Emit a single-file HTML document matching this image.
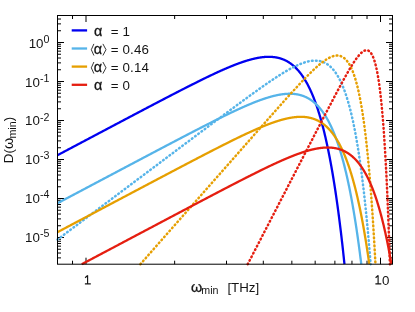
<!DOCTYPE html>
<html><head><meta charset="utf-8"><title>D(omega_min)</title>
<style>
html,body{margin:0;padding:0;background:#fff;}
body{width:415px;height:312px;overflow:hidden;font-family:"Liberation Sans",sans-serif;}
svg{display:block;will-change:transform;}
text{font-family:"Liberation Sans",sans-serif;fill:#141414;}
</style></head><body>
<svg width="415" height="312" viewBox="0 0 415 312">
<rect width="415" height="312" fill="#fff"/>
<defs><clipPath id="c"><rect x="54.5" y="12.5" width="341" height="254.7"/></clipPath></defs>
<path d="M72.52,264.2 v-3.5 M72.52,15.5 v3.5 M86.00,264.2 v-6.5 M86.00,15.5 v6.5 M174.65,264.2 v-3.5 M174.65,15.5 v3.5 M226.51,264.2 v-3.5 M226.51,15.5 v3.5 M263.31,264.2 v-3.5 M263.31,15.5 v3.5 M291.85,264.2 v-3.5 M291.85,15.5 v3.5 M315.17,264.2 v-3.5 M315.17,15.5 v3.5 M334.88,264.2 v-3.5 M334.88,15.5 v3.5 M351.96,264.2 v-3.5 M351.96,15.5 v3.5 M367.02,264.2 v-3.5 M367.02,15.5 v3.5 M380.50,264.2 v-6.5 M380.50,15.5 v6.5 M57.5,257.89 h3.5 M392.5,257.89 h-3.5 M57.5,253.02 h3.5 M392.5,253.02 h-3.5 M57.5,249.24 h3.5 M392.5,249.24 h-3.5 M57.5,246.15 h3.5 M392.5,246.15 h-3.5 M57.5,243.54 h3.5 M392.5,243.54 h-3.5 M57.5,241.28 h3.5 M392.5,241.28 h-3.5 M57.5,239.28 h3.5 M392.5,239.28 h-3.5 M57.5,237.50 h6.5 M392.5,237.50 h-6.5 M57.5,225.76 h3.5 M392.5,225.76 h-3.5 M57.5,218.89 h3.5 M392.5,218.89 h-3.5 M57.5,214.02 h3.5 M392.5,214.02 h-3.5 M57.5,210.24 h3.5 M392.5,210.24 h-3.5 M57.5,207.15 h3.5 M392.5,207.15 h-3.5 M57.5,204.54 h3.5 M392.5,204.54 h-3.5 M57.5,202.28 h3.5 M392.5,202.28 h-3.5 M57.5,200.28 h3.5 M392.5,200.28 h-3.5 M57.5,198.50 h6.5 M392.5,198.50 h-6.5 M57.5,186.76 h3.5 M392.5,186.76 h-3.5 M57.5,179.89 h3.5 M392.5,179.89 h-3.5 M57.5,175.02 h3.5 M392.5,175.02 h-3.5 M57.5,171.24 h3.5 M392.5,171.24 h-3.5 M57.5,168.15 h3.5 M392.5,168.15 h-3.5 M57.5,165.54 h3.5 M392.5,165.54 h-3.5 M57.5,163.28 h3.5 M392.5,163.28 h-3.5 M57.5,161.28 h3.5 M392.5,161.28 h-3.5 M57.5,159.50 h6.5 M392.5,159.50 h-6.5 M57.5,147.76 h3.5 M392.5,147.76 h-3.5 M57.5,140.89 h3.5 M392.5,140.89 h-3.5 M57.5,136.02 h3.5 M392.5,136.02 h-3.5 M57.5,132.24 h3.5 M392.5,132.24 h-3.5 M57.5,129.15 h3.5 M392.5,129.15 h-3.5 M57.5,126.54 h3.5 M392.5,126.54 h-3.5 M57.5,124.28 h3.5 M392.5,124.28 h-3.5 M57.5,122.28 h3.5 M392.5,122.28 h-3.5 M57.5,120.50 h6.5 M392.5,120.50 h-6.5 M57.5,108.76 h3.5 M392.5,108.76 h-3.5 M57.5,101.89 h3.5 M392.5,101.89 h-3.5 M57.5,97.02 h3.5 M392.5,97.02 h-3.5 M57.5,93.24 h3.5 M392.5,93.24 h-3.5 M57.5,90.15 h3.5 M392.5,90.15 h-3.5 M57.5,87.54 h3.5 M392.5,87.54 h-3.5 M57.5,85.28 h3.5 M392.5,85.28 h-3.5 M57.5,83.28 h3.5 M392.5,83.28 h-3.5 M57.5,81.50 h6.5 M392.5,81.50 h-6.5 M57.5,69.76 h3.5 M392.5,69.76 h-3.5 M57.5,62.89 h3.5 M392.5,62.89 h-3.5 M57.5,58.02 h3.5 M392.5,58.02 h-3.5 M57.5,54.24 h3.5 M392.5,54.24 h-3.5 M57.5,51.15 h3.5 M392.5,51.15 h-3.5 M57.5,48.54 h3.5 M392.5,48.54 h-3.5 M57.5,46.28 h3.5 M392.5,46.28 h-3.5 M57.5,44.28 h3.5 M392.5,44.28 h-3.5 M57.5,42.50 h6.5 M392.5,42.50 h-6.5 M57.5,30.76 h3.5 M392.5,30.76 h-3.5 M57.5,23.89 h3.5 M392.5,23.89 h-3.5 M57.5,19.02 h3.5 M392.5,19.02 h-3.5" stroke="#000" stroke-width="1" fill="none"/>
<g clip-path="url(#c)" fill="none" stroke-linejoin="round">
<path d="M57.50,155.19 L57.75,155.06 L58.00,154.92 L58.25,154.79 L58.50,154.66 L58.75,154.53 L59.00,154.39 L59.25,154.26 L59.50,154.13 L59.75,154.00 L60.00,153.87 L60.25,153.73 L60.50,153.60 L60.75,153.47 L61.00,153.34 L61.25,153.20 L61.50,153.07 L61.75,152.94 L62.00,152.81 L62.25,152.67 L62.50,152.54 L62.75,152.41 L63.00,152.28 L63.25,152.14 L63.50,152.01 L63.75,151.88 L64.00,151.75 L64.25,151.61 L64.50,151.48 L64.75,151.35 L65.00,151.22 L65.25,151.09 L65.50,150.95 L65.75,150.82 L66.00,150.69 L66.25,150.56 L66.50,150.42 L66.75,150.29 L67.00,150.16 L67.25,150.03 L67.50,149.89 L67.75,149.76 L68.00,149.63 L68.25,149.50 L68.50,149.36 L68.75,149.23 L69.00,149.10 L69.25,148.97 L69.50,148.83 L69.75,148.70 L70.00,148.57 L70.25,148.44 L70.50,148.31 L70.75,148.17 L71.00,148.04 L71.25,147.91 L71.50,147.78 L71.75,147.64 L72.00,147.51 L72.25,147.38 L72.50,147.25 L72.75,147.11 L73.00,146.98 L73.25,146.85 L73.50,146.72 L73.75,146.58 L74.00,146.45 L74.25,146.32 L74.50,146.19 L74.75,146.05 L75.00,145.92 L75.25,145.79 L75.50,145.66 L75.75,145.53 L76.00,145.39 L76.25,145.26 L76.50,145.13 L76.75,145.00 L77.00,144.86 L77.25,144.73 L77.50,144.60 L77.75,144.47 L78.00,144.33 L78.25,144.20 L78.50,144.07 L78.75,143.94 L79.00,143.80 L79.25,143.67 L79.50,143.54 L79.75,143.41 L80.00,143.28 L80.25,143.14 L80.50,143.01 L80.75,142.88 L81.00,142.75 L81.25,142.61 L81.50,142.48 L81.75,142.35 L82.00,142.22 L82.25,142.08 L82.50,141.95 L82.75,141.82 L83.00,141.69 L83.25,141.56 L83.50,141.42 L83.75,141.29 L84.00,141.16 L84.25,141.03 L84.50,140.89 L84.75,140.76 L85.00,140.63 L85.25,140.50 L85.50,140.36 L85.75,140.23 L86.00,140.10 L86.25,139.97 L86.50,139.83 L86.75,139.70 L87.00,139.57 L87.25,139.44 L87.50,139.31 L87.75,139.17 L88.00,139.04 L88.25,138.91 L88.50,138.78 L88.75,138.64 L89.00,138.51 L89.25,138.38 L89.50,138.25 L89.75,138.11 L90.00,137.98 L90.25,137.85 L90.50,137.72 L90.75,137.59 L91.00,137.45 L91.25,137.32 L91.50,137.19 L91.75,137.06 L92.00,136.92 L92.25,136.79 L92.50,136.66 L92.75,136.53 L93.00,136.39 L93.25,136.26 L93.50,136.13 L93.75,136.00 L94.00,135.87 L94.25,135.73 L94.50,135.60 L94.75,135.47 L95.00,135.34 L95.25,135.20 L95.50,135.07 L95.75,134.94 L96.00,134.81 L96.25,134.68 L96.50,134.54 L96.75,134.41 L97.00,134.28 L97.25,134.15 L97.50,134.01 L97.75,133.88 L98.00,133.75 L98.25,133.62 L98.50,133.48 L98.75,133.35 L99.00,133.22 L99.25,133.09 L99.50,132.96 L99.75,132.82 L100.00,132.69 L100.25,132.56 L100.50,132.43 L100.75,132.29 L101.00,132.16 L101.25,132.03 L101.50,131.90 L101.75,131.77 L102.00,131.63 L102.25,131.50 L102.50,131.37 L102.75,131.24 L103.00,131.10 L103.25,130.97 L103.50,130.84 L103.75,130.71 L104.00,130.58 L104.25,130.44 L104.50,130.31 L104.75,130.18 L105.00,130.05 L105.25,129.91 L105.50,129.78 L105.75,129.65 L106.00,129.52 L106.25,129.39 L106.50,129.25 L106.75,129.12 L107.00,128.99 L107.25,128.86 L107.50,128.72 L107.75,128.59 L108.00,128.46 L108.25,128.33 L108.50,128.20 L108.75,128.06 L109.00,127.93 L109.25,127.80 L109.50,127.67 L109.75,127.54 L110.00,127.40 L110.25,127.27 L110.50,127.14 L110.75,127.01 L111.00,126.87 L111.25,126.74 L111.50,126.61 L111.75,126.48 L112.00,126.35 L112.25,126.21 L112.50,126.08 L112.75,125.95 L113.00,125.82 L113.25,125.69 L113.50,125.55 L113.75,125.42 L114.00,125.29 L114.25,125.16 L114.50,125.02 L114.75,124.89 L115.00,124.76 L115.25,124.63 L115.50,124.50 L115.75,124.36 L116.00,124.23 L116.25,124.10 L116.50,123.97 L116.75,123.84 L117.00,123.70 L117.25,123.57 L117.50,123.44 L117.75,123.31 L118.00,123.18 L118.25,123.04 L118.50,122.91 L118.75,122.78 L119.00,122.65 L119.25,122.52 L119.50,122.38 L119.75,122.25 L120.00,122.12 L120.25,121.99 L120.50,121.85 L120.75,121.72 L121.00,121.59 L121.25,121.46 L121.50,121.33 L121.75,121.19 L122.00,121.06 L122.25,120.93 L122.50,120.80 L122.75,120.67 L123.00,120.53 L123.25,120.40 L123.50,120.27 L123.75,120.14 L124.00,120.01 L124.25,119.87 L124.50,119.74 L124.75,119.61 L125.00,119.48 L125.25,119.35 L125.50,119.22 L125.75,119.08 L126.00,118.95 L126.25,118.82 L126.50,118.69 L126.75,118.56 L127.00,118.42 L127.25,118.29 L127.50,118.16 L127.75,118.03 L128.00,117.90 L128.25,117.76 L128.50,117.63 L128.75,117.50 L129.00,117.37 L129.25,117.24 L129.50,117.10 L129.75,116.97 L130.00,116.84 L130.25,116.71 L130.50,116.58 L130.75,116.45 L131.00,116.31 L131.25,116.18 L131.50,116.05 L131.75,115.92 L132.00,115.79 L132.25,115.65 L132.50,115.52 L132.75,115.39 L133.00,115.26 L133.25,115.13 L133.50,115.00 L133.75,114.86 L134.00,114.73 L134.25,114.60 L134.50,114.47 L134.75,114.34 L135.00,114.21 L135.25,114.07 L135.50,113.94 L135.75,113.81 L136.00,113.68 L136.25,113.55 L136.50,113.42 L136.75,113.28 L137.00,113.15 L137.25,113.02 L137.50,112.89 L137.75,112.76 L138.00,112.63 L138.25,112.49 L138.50,112.36 L138.75,112.23 L139.00,112.10 L139.25,111.97 L139.50,111.84 L139.75,111.70 L140.00,111.57 L140.25,111.44 L140.50,111.31 L140.75,111.18 L141.00,111.05 L141.25,110.91 L141.50,110.78 L141.75,110.65 L142.00,110.52 L142.25,110.39 L142.50,110.26 L142.75,110.13 L143.00,109.99 L143.25,109.86 L143.50,109.73 L143.75,109.60 L144.00,109.47 L144.25,109.34 L144.50,109.21 L144.75,109.07 L145.00,108.94 L145.25,108.81 L145.50,108.68 L145.75,108.55 L146.00,108.42 L146.25,108.29 L146.50,108.15 L146.75,108.02 L147.00,107.89 L147.25,107.76 L147.50,107.63 L147.75,107.50 L148.00,107.37 L148.25,107.24 L148.50,107.10 L148.75,106.97 L149.00,106.84 L149.25,106.71 L149.50,106.58 L149.75,106.45 L150.00,106.32 L150.25,106.19 L150.50,106.06 L150.75,105.92 L151.00,105.79 L151.25,105.66 L151.50,105.53 L151.75,105.40 L152.00,105.27 L152.25,105.14 L152.50,105.01 L152.75,104.88 L153.00,104.74 L153.25,104.61 L153.50,104.48 L153.75,104.35 L154.00,104.22 L154.25,104.09 L154.50,103.96 L154.75,103.83 L155.00,103.70 L155.25,103.57 L155.50,103.44 L155.75,103.30 L156.00,103.17 L156.25,103.04 L156.50,102.91 L156.75,102.78 L157.00,102.65 L157.25,102.52 L157.50,102.39 L157.75,102.26 L158.00,102.13 L158.25,102.00 L158.50,101.87 L158.75,101.74 L159.00,101.61 L159.25,101.47 L159.50,101.34 L159.75,101.21 L160.00,101.08 L160.25,100.95 L160.50,100.82 L160.75,100.69 L161.00,100.56 L161.25,100.43 L161.50,100.30 L161.75,100.17 L162.00,100.04 L162.25,99.91 L162.50,99.78 L162.75,99.65 L163.00,99.52 L163.25,99.39 L163.50,99.26 L163.75,99.13 L164.00,99.00 L164.25,98.87 L164.50,98.74 L164.75,98.61 L165.00,98.48 L165.25,98.35 L165.50,98.22 L165.75,98.09 L166.00,97.96 L166.25,97.83 L166.50,97.70 L166.75,97.57 L167.00,97.44 L167.25,97.31 L167.50,97.18 L167.75,97.05 L168.00,96.92 L168.25,96.79 L168.50,96.66 L168.75,96.53 L169.00,96.40 L169.25,96.27 L169.50,96.14 L169.75,96.01 L170.00,95.88 L170.25,95.75 L170.50,95.62 L170.75,95.49 L171.00,95.36 L171.25,95.23 L171.50,95.10 L171.75,94.97 L172.00,94.84 L172.25,94.71 L172.50,94.58 L172.75,94.45 L173.00,94.32 L173.25,94.19 L173.50,94.07 L173.75,93.94 L174.00,93.81 L174.25,93.68 L174.50,93.55 L174.75,93.42 L175.00,93.29 L175.25,93.16 L175.50,93.03 L175.75,92.90 L176.00,92.77 L176.25,92.65 L176.50,92.52 L176.75,92.39 L177.00,92.26 L177.25,92.13 L177.50,92.00 L177.75,91.87 L178.00,91.74 L178.25,91.62 L178.50,91.49 L178.75,91.36 L179.00,91.23 L179.25,91.10 L179.50,90.97 L179.75,90.85 L180.00,90.72 L180.25,90.59 L180.50,90.46 L180.75,90.33 L181.00,90.20 L181.25,90.08 L181.50,89.95 L181.75,89.82 L182.00,89.69 L182.25,89.56 L182.50,89.44 L182.75,89.31 L183.00,89.18 L183.25,89.05 L183.50,88.92 L183.75,88.80 L184.00,88.67 L184.25,88.54 L184.50,88.41 L184.75,88.29 L185.00,88.16 L185.25,88.03 L185.50,87.90 L185.75,87.78 L186.00,87.65 L186.25,87.52 L186.50,87.40 L186.75,87.27 L187.00,87.14 L187.25,87.01 L187.50,86.89 L187.75,86.76 L188.00,86.63 L188.25,86.51 L188.50,86.38 L188.75,86.25 L189.00,86.13 L189.25,86.00 L189.50,85.87 L189.75,85.75 L190.00,85.62 L190.25,85.50 L190.50,85.37 L190.75,85.24 L191.00,85.12 L191.25,84.99 L191.50,84.86 L191.75,84.74 L192.00,84.61 L192.25,84.49 L192.50,84.36 L192.75,84.24 L193.00,84.11 L193.25,83.98 L193.50,83.86 L193.75,83.73 L194.00,83.61 L194.25,83.48 L194.50,83.36 L194.75,83.23 L195.00,83.11 L195.25,82.98 L195.50,82.86 L195.75,82.73 L196.00,82.61 L196.25,82.48 L196.50,82.36 L196.75,82.23 L197.00,82.11 L197.25,81.98 L197.50,81.86 L197.75,81.74 L198.00,81.61 L198.25,81.49 L198.50,81.36 L198.75,81.24 L199.00,81.12 L199.25,80.99 L199.50,80.87 L199.75,80.75 L200.00,80.62 L200.25,80.50 L200.50,80.38 L200.75,80.25 L201.00,80.13 L201.25,80.01 L201.50,79.88 L201.75,79.76 L202.00,79.64 L202.25,79.51 L202.50,79.39 L202.75,79.27 L203.00,79.15 L203.25,79.03 L203.50,78.90 L203.75,78.78 L204.00,78.66 L204.25,78.54 L204.50,78.42 L204.75,78.29 L205.00,78.17 L205.25,78.05 L205.50,77.93 L205.75,77.81 L206.00,77.69 L206.25,77.57 L206.50,77.45 L206.75,77.32 L207.00,77.20 L207.25,77.08 L207.50,76.96 L207.75,76.84 L208.00,76.72 L208.25,76.60 L208.50,76.48 L208.75,76.36 L209.00,76.24 L209.25,76.12 L209.50,76.00 L209.75,75.88 L210.00,75.77 L210.25,75.65 L210.50,75.53 L210.75,75.41 L211.00,75.29 L211.25,75.17 L211.50,75.05 L211.75,74.93 L212.00,74.82 L212.25,74.70 L212.50,74.58 L212.75,74.46 L213.00,74.35 L213.25,74.23 L213.50,74.11 L213.75,73.99 L214.00,73.88 L214.25,73.76 L214.50,73.64 L214.75,73.53 L215.00,73.41 L215.25,73.29 L215.50,73.18 L215.75,73.06 L216.00,72.95 L216.25,72.83 L216.50,72.72 L216.75,72.60 L217.00,72.49 L217.25,72.37 L217.50,72.26 L217.75,72.14 L218.00,72.03 L218.25,71.91 L218.50,71.80 L218.75,71.69 L219.00,71.57 L219.25,71.46 L219.50,71.34 L219.75,71.23 L220.00,71.12 L220.25,71.01 L220.50,70.89 L220.75,70.78 L221.00,70.67 L221.25,70.56 L221.50,70.45 L221.75,70.33 L222.00,70.22 L222.25,70.11 L222.50,70.00 L222.75,69.89 L223.00,69.78 L223.25,69.67 L223.50,69.56 L223.75,69.45 L224.00,69.34 L224.25,69.23 L224.50,69.12 L224.75,69.01 L225.00,68.90 L225.25,68.80 L225.50,68.69 L225.75,68.58 L226.00,68.47 L226.25,68.37 L226.50,68.26 L226.75,68.15 L227.00,68.04 L227.25,67.94 L227.50,67.83 L227.75,67.73 L228.00,67.62 L228.25,67.51 L228.50,67.41 L228.75,67.30 L229.00,67.20 L229.25,67.10 L229.50,66.99 L229.75,66.89 L230.00,66.78 L230.25,66.68 L230.50,66.58 L230.75,66.48 L231.00,66.37 L231.25,66.27 L231.50,66.17 L231.75,66.07 L232.00,65.97 L232.25,65.87 L232.50,65.77 L232.75,65.67 L233.00,65.57 L233.25,65.47 L233.50,65.37 L233.75,65.27 L234.00,65.17 L234.25,65.07 L234.50,64.97 L234.75,64.87 L235.00,64.78 L235.25,64.68 L235.50,64.58 L235.75,64.49 L236.00,64.39 L236.25,64.30 L236.50,64.20 L236.75,64.11 L237.00,64.01 L237.25,63.92 L237.50,63.82 L237.75,63.73 L238.00,63.64 L238.25,63.55 L238.50,63.45 L238.75,63.36 L239.00,63.27 L239.25,63.18 L239.50,63.09 L239.75,63.00 L240.00,62.91 L240.25,62.82 L240.50,62.73 L240.75,62.64 L241.00,62.56 L241.25,62.47 L241.50,62.38 L241.75,62.29 L242.00,62.21 L242.25,62.12 L242.50,62.04 L242.75,61.95 L243.00,61.87 L243.25,61.78 L243.50,61.70 L243.75,61.62 L244.00,61.53 L244.25,61.45 L244.50,61.37 L244.75,61.29 L245.00,61.21 L245.25,61.13 L245.50,61.05 L245.75,60.97 L246.00,60.89 L246.25,60.82 L246.50,60.74 L246.75,60.66 L247.00,60.59 L247.25,60.51 L247.50,60.43 L247.75,60.36 L248.00,60.29 L248.25,60.21 L248.50,60.14 L248.75,60.07 L249.00,60.00 L249.25,59.93 L249.50,59.85 L249.75,59.78 L250.00,59.72 L250.25,59.65 L250.50,59.58 L250.75,59.51 L251.00,59.45 L251.25,59.38 L251.50,59.31 L251.75,59.25 L252.00,59.18 L252.25,59.12 L252.50,59.06 L252.75,59.00 L253.00,58.94 L253.25,58.87 L253.50,58.81 L253.75,58.76 L254.00,58.70 L254.25,58.64 L254.50,58.58 L254.75,58.53 L255.00,58.47 L255.25,58.42 L255.50,58.36 L255.75,58.31 L256.00,58.26 L256.25,58.20 L256.50,58.15 L256.75,58.10 L257.00,58.05 L257.25,58.00 L257.50,57.96 L257.75,57.91 L258.00,57.86 L258.25,57.82 L258.50,57.77 L258.75,57.73 L259.00,57.69 L259.25,57.65 L259.50,57.61 L259.75,57.57 L260.00,57.53 L260.25,57.49 L260.50,57.45 L260.75,57.42 L261.00,57.38 L261.25,57.35 L261.50,57.31 L261.75,57.28 L262.00,57.25 L262.25,57.22 L262.50,57.19 L262.75,57.16 L263.00,57.13 L263.25,57.11 L263.50,57.08 L263.75,57.06 L264.00,57.04 L264.25,57.01 L264.50,56.99 L264.75,56.97 L265.00,56.95 L265.25,56.94 L265.50,56.92 L265.75,56.90 L266.00,56.89 L266.25,56.88 L266.50,56.86 L266.75,56.85 L267.00,56.84 L267.25,56.84 L267.50,56.83 L267.75,56.82 L268.00,56.82 L268.25,56.81 L268.50,56.81 L268.75,56.81 L269.00,56.81 L269.25,56.81 L269.50,56.82 L269.75,56.82 L270.00,56.83 L270.25,56.83 L270.50,56.84 L270.75,56.85 L271.00,56.86 L271.25,56.88 L271.50,56.89 L271.75,56.91 L272.00,56.92 L272.25,56.94 L272.50,56.96 L272.75,56.98 L273.00,57.01 L273.25,57.03 L273.50,57.06 L273.75,57.08 L274.00,57.11 L274.25,57.14 L274.50,57.18 L274.75,57.21 L275.00,57.24 L275.25,57.28 L275.50,57.32 L275.75,57.36 L276.00,57.40 L276.25,57.45 L276.50,57.49 L276.75,57.54 L277.00,57.59 L277.25,57.64 L277.50,57.69 L277.75,57.75 L278.00,57.80 L278.25,57.86 L278.50,57.92 L278.75,57.99 L279.00,58.05 L279.25,58.12 L279.50,58.18 L279.75,58.25 L280.00,58.32 L280.25,58.40 L280.50,58.47 L280.75,58.55 L281.00,58.63 L281.25,58.71 L281.50,58.80 L281.75,58.88 L282.00,58.97 L282.25,59.06 L282.50,59.16 L282.75,59.25 L283.00,59.35 L283.25,59.45 L283.50,59.55 L283.75,59.65 L284.00,59.76 L284.25,59.87 L284.50,59.98 L284.75,60.09 L285.00,60.21 L285.25,60.33 L285.50,60.45 L285.75,60.57 L286.00,60.70 L286.25,60.83 L286.50,60.96 L286.75,61.09 L287.00,61.23 L287.25,61.37 L287.50,61.51 L287.75,61.65 L288.00,61.80 L288.25,61.95 L288.50,62.10 L288.75,62.25 L289.00,62.41 L289.25,62.57 L289.50,62.74 L289.75,62.90 L290.00,63.07 L290.25,63.25 L290.50,63.42 L290.75,63.60 L291.00,63.78 L291.25,63.97 L291.50,64.15 L291.75,64.34 L292.00,64.54 L292.25,64.74 L292.50,64.94 L292.75,65.14 L293.00,65.35 L293.25,65.56 L293.50,65.77 L293.75,65.99 L294.00,66.21 L294.25,66.43 L294.50,66.66 L294.75,66.89 L295.00,67.13 L295.25,67.36 L295.50,67.61 L295.75,67.85 L296.00,68.10 L296.25,68.35 L296.50,68.61 L296.75,68.87 L297.00,69.14 L297.25,69.41 L297.50,69.68 L297.75,69.95 L298.00,70.23 L298.25,70.52 L298.50,70.81 L298.75,71.10 L299.00,71.40 L299.25,71.70 L299.50,72.00 L299.75,72.31 L300.00,72.63 L300.25,72.95 L300.50,73.27 L300.75,73.60 L301.00,73.93 L301.25,74.26 L301.50,74.60 L301.75,74.95 L302.00,75.30 L302.25,75.65 L302.50,76.01 L302.75,76.38 L303.00,76.75 L303.25,77.12 L303.50,77.50 L303.75,77.89 L304.00,78.28 L304.25,78.67 L304.50,79.07 L304.75,79.48 L305.00,79.89 L305.25,80.30 L305.50,80.72 L305.75,81.15 L306.00,81.58 L306.25,82.02 L306.50,82.46 L306.75,82.91 L307.00,83.36 L307.25,83.83 L307.50,84.29 L307.75,84.76 L308.00,85.24 L308.25,85.72 L308.50,86.21 L308.75,86.71 L309.00,87.21 L309.25,87.72 L309.50,88.24 L309.75,88.76 L310.00,89.28 L310.25,89.82 L310.50,90.36 L310.75,90.91 L311.00,91.46 L311.25,92.02 L311.50,92.59 L311.75,93.16 L312.00,93.74 L312.25,94.33 L312.50,94.93 L312.75,95.53 L313.00,96.14 L313.25,96.76 L313.50,97.38 L313.75,98.01 L314.00,98.65 L314.25,99.30 L314.50,99.95 L314.75,100.61 L315.00,101.28 L315.25,101.96 L315.50,102.65 L315.75,103.34 L316.00,104.04 L316.25,104.75 L316.50,105.47 L316.75,106.20 L317.00,106.93 L317.25,107.68 L317.50,108.43 L317.75,109.19 L318.00,109.96 L318.25,110.74 L318.50,111.53 L318.75,112.32 L319.00,113.13 L319.25,113.94 L319.50,114.77 L319.75,115.60 L320.00,116.44 L320.25,117.30 L320.50,118.16 L320.75,119.03 L321.00,119.91 L321.25,120.81 L321.50,121.71 L321.75,122.62 L322.00,123.54 L322.25,124.48 L322.50,125.42 L322.75,126.37 L323.00,127.34 L323.25,128.31 L323.50,129.30 L323.75,130.30 L324.00,131.30 L324.25,132.32 L324.50,133.35 L324.75,134.40 L325.00,135.45 L325.25,136.52 L325.50,137.59 L325.75,138.68 L326.00,139.78 L326.25,140.90 L326.50,142.02 L326.75,143.16 L327.00,144.31 L327.25,145.47 L327.50,146.65 L327.75,147.84 L328.00,149.04 L328.25,150.25 L328.50,151.48 L328.75,152.72 L329.00,153.97 L329.25,155.24 L329.50,156.52 L329.75,157.82 L330.00,159.13 L330.25,160.45 L330.50,161.79 L330.75,163.15 L331.00,164.51 L331.25,165.89 L331.50,167.29 L331.75,168.70 L332.00,170.13 L332.25,171.57 L332.50,173.03 L332.75,174.50 L333.00,175.99 L333.25,177.50 L333.50,179.02 L333.75,180.56 L334.00,182.11 L334.25,183.68 L334.50,185.27 L334.75,186.87 L335.00,188.49 L335.25,190.13 L335.50,191.79 L335.75,193.46 L336.00,195.15 L336.25,196.86 L336.50,198.59 L336.75,200.33 L337.00,202.10 L337.25,203.88 L337.50,205.68 L337.75,207.50 L338.00,209.34 L338.25,211.20 L338.50,213.08 L338.75,214.98 L339.00,216.89 L339.25,218.83 L339.50,220.79 L339.75,222.77 L340.00,224.77 L340.25,226.79 L340.50,228.83 L340.75,230.89 L341.00,232.98 L341.25,235.09 L341.50,237.21 L341.75,239.36 L342.00,241.54 L342.25,243.73 L342.50,245.95 L342.75,248.19 L343.00,250.46 L343.25,252.75 L343.50,255.06 L343.75,257.40 L344.00,259.76 L344.25,262.14 L344.46,264.20" stroke="#0000f0" stroke-width="2.3"/>
<path d="M57.50,203.23 L57.75,203.10 L58.00,202.97 L58.25,202.84 L58.50,202.70 L58.75,202.57 L59.00,202.44 L59.25,202.31 L59.50,202.17 L59.75,202.04 L60.00,201.91 L60.25,201.78 L60.50,201.64 L60.75,201.51 L61.00,201.38 L61.25,201.25 L61.50,201.11 L61.75,200.98 L62.00,200.85 L62.25,200.72 L62.50,200.58 L62.75,200.45 L63.00,200.32 L63.25,200.19 L63.50,200.05 L63.75,199.92 L64.00,199.79 L64.25,199.66 L64.50,199.53 L64.75,199.39 L65.00,199.26 L65.25,199.13 L65.50,199.00 L65.75,198.86 L66.00,198.73 L66.25,198.60 L66.50,198.47 L66.75,198.33 L67.00,198.20 L67.25,198.07 L67.50,197.94 L67.75,197.80 L68.00,197.67 L68.25,197.54 L68.50,197.41 L68.75,197.27 L69.00,197.14 L69.25,197.01 L69.50,196.88 L69.75,196.74 L70.00,196.61 L70.25,196.48 L70.50,196.35 L70.75,196.21 L71.00,196.08 L71.25,195.95 L71.50,195.82 L71.75,195.69 L72.00,195.55 L72.25,195.42 L72.50,195.29 L72.75,195.16 L73.00,195.02 L73.25,194.89 L73.50,194.76 L73.75,194.63 L74.00,194.49 L74.25,194.36 L74.50,194.23 L74.75,194.10 L75.00,193.96 L75.25,193.83 L75.50,193.70 L75.75,193.57 L76.00,193.43 L76.25,193.30 L76.50,193.17 L76.75,193.04 L77.00,192.91 L77.25,192.77 L77.50,192.64 L77.75,192.51 L78.00,192.38 L78.25,192.24 L78.50,192.11 L78.75,191.98 L79.00,191.85 L79.25,191.71 L79.50,191.58 L79.75,191.45 L80.00,191.32 L80.25,191.18 L80.50,191.05 L80.75,190.92 L81.00,190.79 L81.25,190.65 L81.50,190.52 L81.75,190.39 L82.00,190.26 L82.25,190.12 L82.50,189.99 L82.75,189.86 L83.00,189.73 L83.25,189.60 L83.50,189.46 L83.75,189.33 L84.00,189.20 L84.25,189.07 L84.50,188.93 L84.75,188.80 L85.00,188.67 L85.25,188.54 L85.50,188.40 L85.75,188.27 L86.00,188.14 L86.25,188.01 L86.50,187.87 L86.75,187.74 L87.00,187.61 L87.25,187.48 L87.50,187.34 L87.75,187.21 L88.00,187.08 L88.25,186.95 L88.50,186.82 L88.75,186.68 L89.00,186.55 L89.25,186.42 L89.50,186.29 L89.75,186.15 L90.00,186.02 L90.25,185.89 L90.50,185.76 L90.75,185.62 L91.00,185.49 L91.25,185.36 L91.50,185.23 L91.75,185.09 L92.00,184.96 L92.25,184.83 L92.50,184.70 L92.75,184.56 L93.00,184.43 L93.25,184.30 L93.50,184.17 L93.75,184.04 L94.00,183.90 L94.25,183.77 L94.50,183.64 L94.75,183.51 L95.00,183.37 L95.25,183.24 L95.50,183.11 L95.75,182.98 L96.00,182.84 L96.25,182.71 L96.50,182.58 L96.75,182.45 L97.00,182.31 L97.25,182.18 L97.50,182.05 L97.75,181.92 L98.00,181.79 L98.25,181.65 L98.50,181.52 L98.75,181.39 L99.00,181.26 L99.25,181.12 L99.50,180.99 L99.75,180.86 L100.00,180.73 L100.25,180.59 L100.50,180.46 L100.75,180.33 L101.00,180.20 L101.25,180.06 L101.50,179.93 L101.75,179.80 L102.00,179.67 L102.25,179.54 L102.50,179.40 L102.75,179.27 L103.00,179.14 L103.25,179.01 L103.50,178.87 L103.75,178.74 L104.00,178.61 L104.25,178.48 L104.50,178.34 L104.75,178.21 L105.00,178.08 L105.25,177.95 L105.50,177.82 L105.75,177.68 L106.00,177.55 L106.25,177.42 L106.50,177.29 L106.75,177.15 L107.00,177.02 L107.25,176.89 L107.50,176.76 L107.75,176.62 L108.00,176.49 L108.25,176.36 L108.50,176.23 L108.75,176.09 L109.00,175.96 L109.25,175.83 L109.50,175.70 L109.75,175.57 L110.00,175.43 L110.25,175.30 L110.50,175.17 L110.75,175.04 L111.00,174.90 L111.25,174.77 L111.50,174.64 L111.75,174.51 L112.00,174.37 L112.25,174.24 L112.50,174.11 L112.75,173.98 L113.00,173.85 L113.25,173.71 L113.50,173.58 L113.75,173.45 L114.00,173.32 L114.25,173.18 L114.50,173.05 L114.75,172.92 L115.00,172.79 L115.25,172.65 L115.50,172.52 L115.75,172.39 L116.00,172.26 L116.25,172.13 L116.50,171.99 L116.75,171.86 L117.00,171.73 L117.25,171.60 L117.50,171.46 L117.75,171.33 L118.00,171.20 L118.25,171.07 L118.50,170.94 L118.75,170.80 L119.00,170.67 L119.25,170.54 L119.50,170.41 L119.75,170.27 L120.00,170.14 L120.25,170.01 L120.50,169.88 L120.75,169.75 L121.00,169.61 L121.25,169.48 L121.50,169.35 L121.75,169.22 L122.00,169.08 L122.25,168.95 L122.50,168.82 L122.75,168.69 L123.00,168.55 L123.25,168.42 L123.50,168.29 L123.75,168.16 L124.00,168.03 L124.25,167.89 L124.50,167.76 L124.75,167.63 L125.00,167.50 L125.25,167.36 L125.50,167.23 L125.75,167.10 L126.00,166.97 L126.25,166.84 L126.50,166.70 L126.75,166.57 L127.00,166.44 L127.25,166.31 L127.50,166.18 L127.75,166.04 L128.00,165.91 L128.25,165.78 L128.50,165.65 L128.75,165.51 L129.00,165.38 L129.25,165.25 L129.50,165.12 L129.75,164.99 L130.00,164.85 L130.25,164.72 L130.50,164.59 L130.75,164.46 L131.00,164.32 L131.25,164.19 L131.50,164.06 L131.75,163.93 L132.00,163.80 L132.25,163.66 L132.50,163.53 L132.75,163.40 L133.00,163.27 L133.25,163.14 L133.50,163.00 L133.75,162.87 L134.00,162.74 L134.25,162.61 L134.50,162.47 L134.75,162.34 L135.00,162.21 L135.25,162.08 L135.50,161.95 L135.75,161.81 L136.00,161.68 L136.25,161.55 L136.50,161.42 L136.75,161.29 L137.00,161.15 L137.25,161.02 L137.50,160.89 L137.75,160.76 L138.00,160.63 L138.25,160.49 L138.50,160.36 L138.75,160.23 L139.00,160.10 L139.25,159.96 L139.50,159.83 L139.75,159.70 L140.00,159.57 L140.25,159.44 L140.50,159.30 L140.75,159.17 L141.00,159.04 L141.25,158.91 L141.50,158.78 L141.75,158.64 L142.00,158.51 L142.25,158.38 L142.50,158.25 L142.75,158.12 L143.00,157.98 L143.25,157.85 L143.50,157.72 L143.75,157.59 L144.00,157.46 L144.25,157.32 L144.50,157.19 L144.75,157.06 L145.00,156.93 L145.25,156.80 L145.50,156.66 L145.75,156.53 L146.00,156.40 L146.25,156.27 L146.50,156.14 L146.75,156.00 L147.00,155.87 L147.25,155.74 L147.50,155.61 L147.75,155.48 L148.00,155.35 L148.25,155.21 L148.50,155.08 L148.75,154.95 L149.00,154.82 L149.25,154.69 L149.50,154.55 L149.75,154.42 L150.00,154.29 L150.25,154.16 L150.50,154.03 L150.75,153.89 L151.00,153.76 L151.25,153.63 L151.50,153.50 L151.75,153.37 L152.00,153.24 L152.25,153.10 L152.50,152.97 L152.75,152.84 L153.00,152.71 L153.25,152.58 L153.50,152.44 L153.75,152.31 L154.00,152.18 L154.25,152.05 L154.50,151.92 L154.75,151.79 L155.00,151.65 L155.25,151.52 L155.50,151.39 L155.75,151.26 L156.00,151.13 L156.25,151.00 L156.50,150.86 L156.75,150.73 L157.00,150.60 L157.25,150.47 L157.50,150.34 L157.75,150.21 L158.00,150.07 L158.25,149.94 L158.50,149.81 L158.75,149.68 L159.00,149.55 L159.25,149.42 L159.50,149.28 L159.75,149.15 L160.00,149.02 L160.25,148.89 L160.50,148.76 L160.75,148.63 L161.00,148.49 L161.25,148.36 L161.50,148.23 L161.75,148.10 L162.00,147.97 L162.25,147.84 L162.50,147.70 L162.75,147.57 L163.00,147.44 L163.25,147.31 L163.50,147.18 L163.75,147.05 L164.00,146.92 L164.25,146.78 L164.50,146.65 L164.75,146.52 L165.00,146.39 L165.25,146.26 L165.50,146.13 L165.75,146.00 L166.00,145.86 L166.25,145.73 L166.50,145.60 L166.75,145.47 L167.00,145.34 L167.25,145.21 L167.50,145.08 L167.75,144.95 L168.00,144.81 L168.25,144.68 L168.50,144.55 L168.75,144.42 L169.00,144.29 L169.25,144.16 L169.50,144.03 L169.75,143.90 L170.00,143.76 L170.25,143.63 L170.50,143.50 L170.75,143.37 L171.00,143.24 L171.25,143.11 L171.50,142.98 L171.75,142.85 L172.00,142.71 L172.25,142.58 L172.50,142.45 L172.75,142.32 L173.00,142.19 L173.25,142.06 L173.50,141.93 L173.75,141.80 L174.00,141.67 L174.25,141.54 L174.50,141.40 L174.75,141.27 L175.00,141.14 L175.25,141.01 L175.50,140.88 L175.75,140.75 L176.00,140.62 L176.25,140.49 L176.50,140.36 L176.75,140.23 L177.00,140.10 L177.25,139.96 L177.50,139.83 L177.75,139.70 L178.00,139.57 L178.25,139.44 L178.50,139.31 L178.75,139.18 L179.00,139.05 L179.25,138.92 L179.50,138.79 L179.75,138.66 L180.00,138.53 L180.25,138.40 L180.50,138.27 L180.75,138.14 L181.00,138.00 L181.25,137.87 L181.50,137.74 L181.75,137.61 L182.00,137.48 L182.25,137.35 L182.50,137.22 L182.75,137.09 L183.00,136.96 L183.25,136.83 L183.50,136.70 L183.75,136.57 L184.00,136.44 L184.25,136.31 L184.50,136.18 L184.75,136.05 L185.00,135.92 L185.25,135.79 L185.50,135.66 L185.75,135.53 L186.00,135.40 L186.25,135.27 L186.50,135.14 L186.75,135.01 L187.00,134.88 L187.25,134.75 L187.50,134.62 L187.75,134.49 L188.00,134.36 L188.25,134.23 L188.50,134.10 L188.75,133.97 L189.00,133.84 L189.25,133.71 L189.50,133.58 L189.75,133.45 L190.00,133.32 L190.25,133.19 L190.50,133.06 L190.75,132.93 L191.00,132.80 L191.25,132.67 L191.50,132.54 L191.75,132.41 L192.00,132.28 L192.25,132.15 L192.50,132.02 L192.75,131.89 L193.00,131.76 L193.25,131.63 L193.50,131.50 L193.75,131.38 L194.00,131.25 L194.25,131.12 L194.50,130.99 L194.75,130.86 L195.00,130.73 L195.25,130.60 L195.50,130.47 L195.75,130.34 L196.00,130.21 L196.25,130.08 L196.50,129.95 L196.75,129.83 L197.00,129.70 L197.25,129.57 L197.50,129.44 L197.75,129.31 L198.00,129.18 L198.25,129.05 L198.50,128.92 L198.75,128.80 L199.00,128.67 L199.25,128.54 L199.50,128.41 L199.75,128.28 L200.00,128.15 L200.25,128.02 L200.50,127.90 L200.75,127.77 L201.00,127.64 L201.25,127.51 L201.50,127.38 L201.75,127.25 L202.00,127.13 L202.25,127.00 L202.50,126.87 L202.75,126.74 L203.00,126.61 L203.25,126.49 L203.50,126.36 L203.75,126.23 L204.00,126.10 L204.25,125.97 L204.50,125.85 L204.75,125.72 L205.00,125.59 L205.25,125.46 L205.50,125.34 L205.75,125.21 L206.00,125.08 L206.25,124.95 L206.50,124.83 L206.75,124.70 L207.00,124.57 L207.25,124.45 L207.50,124.32 L207.75,124.19 L208.00,124.06 L208.25,123.94 L208.50,123.81 L208.75,123.68 L209.00,123.56 L209.25,123.43 L209.50,123.30 L209.75,123.18 L210.00,123.05 L210.25,122.92 L210.50,122.80 L210.75,122.67 L211.00,122.54 L211.25,122.42 L211.50,122.29 L211.75,122.17 L212.00,122.04 L212.25,121.91 L212.50,121.79 L212.75,121.66 L213.00,121.54 L213.25,121.41 L213.50,121.28 L213.75,121.16 L214.00,121.03 L214.25,120.91 L214.50,120.78 L214.75,120.66 L215.00,120.53 L215.25,120.41 L215.50,120.28 L215.75,120.15 L216.00,120.03 L216.25,119.90 L216.50,119.78 L216.75,119.66 L217.00,119.53 L217.25,119.41 L217.50,119.28 L217.75,119.16 L218.00,119.03 L218.25,118.91 L218.50,118.78 L218.75,118.66 L219.00,118.53 L219.25,118.41 L219.50,118.29 L219.75,118.16 L220.00,118.04 L220.25,117.92 L220.50,117.79 L220.75,117.67 L221.00,117.54 L221.25,117.42 L221.50,117.30 L221.75,117.18 L222.00,117.05 L222.25,116.93 L222.50,116.81 L222.75,116.68 L223.00,116.56 L223.25,116.44 L223.50,116.32 L223.75,116.19 L224.00,116.07 L224.25,115.95 L224.50,115.83 L224.75,115.70 L225.00,115.58 L225.25,115.46 L225.50,115.34 L225.75,115.22 L226.00,115.10 L226.25,114.97 L226.50,114.85 L226.75,114.73 L227.00,114.61 L227.25,114.49 L227.50,114.37 L227.75,114.25 L228.00,114.13 L228.25,114.01 L228.50,113.89 L228.75,113.77 L229.00,113.65 L229.25,113.53 L229.50,113.41 L229.75,113.29 L230.00,113.17 L230.25,113.05 L230.50,112.93 L230.75,112.81 L231.00,112.69 L231.25,112.57 L231.50,112.45 L231.75,112.33 L232.00,112.21 L232.25,112.09 L232.50,111.98 L232.75,111.86 L233.00,111.74 L233.25,111.62 L233.50,111.50 L233.75,111.39 L234.00,111.27 L234.25,111.15 L234.50,111.03 L234.75,110.92 L235.00,110.80 L235.25,110.68 L235.50,110.57 L235.75,110.45 L236.00,110.33 L236.25,110.22 L236.50,110.10 L236.75,109.99 L237.00,109.87 L237.25,109.76 L237.50,109.64 L237.75,109.52 L238.00,109.41 L238.25,109.29 L238.50,109.18 L238.75,109.07 L239.00,108.95 L239.25,108.84 L239.50,108.72 L239.75,108.61 L240.00,108.50 L240.25,108.38 L240.50,108.27 L240.75,108.16 L241.00,108.04 L241.25,107.93 L241.50,107.82 L241.75,107.71 L242.00,107.59 L242.25,107.48 L242.50,107.37 L242.75,107.26 L243.00,107.15 L243.25,107.04 L243.50,106.93 L243.75,106.82 L244.00,106.70 L244.25,106.59 L244.50,106.48 L244.75,106.37 L245.00,106.27 L245.25,106.16 L245.50,106.05 L245.75,105.94 L246.00,105.83 L246.25,105.72 L246.50,105.61 L246.75,105.51 L247.00,105.40 L247.25,105.29 L247.50,105.18 L247.75,105.08 L248.00,104.97 L248.25,104.86 L248.50,104.76 L248.75,104.65 L249.00,104.55 L249.25,104.44 L249.50,104.33 L249.75,104.23 L250.00,104.13 L250.25,104.02 L250.50,103.92 L250.75,103.81 L251.00,103.71 L251.25,103.61 L251.50,103.50 L251.75,103.40 L252.00,103.30 L252.25,103.20 L252.50,103.09 L252.75,102.99 L253.00,102.89 L253.25,102.79 L253.50,102.69 L253.75,102.59 L254.00,102.49 L254.25,102.39 L254.50,102.29 L254.75,102.19 L255.00,102.09 L255.25,102.00 L255.50,101.90 L255.75,101.80 L256.00,101.70 L256.25,101.61 L256.50,101.51 L256.75,101.41 L257.00,101.32 L257.25,101.22 L257.50,101.13 L257.75,101.03 L258.00,100.94 L258.25,100.84 L258.50,100.75 L258.75,100.66 L259.00,100.57 L259.25,100.47 L259.50,100.38 L259.75,100.29 L260.00,100.20 L260.25,100.11 L260.50,100.02 L260.75,99.93 L261.00,99.84 L261.25,99.75 L261.50,99.66 L261.75,99.57 L262.00,99.48 L262.25,99.40 L262.50,99.31 L262.75,99.22 L263.00,99.14 L263.25,99.05 L263.50,98.96 L263.75,98.88 L264.00,98.80 L264.25,98.71 L264.50,98.63 L264.75,98.55 L265.00,98.46 L265.25,98.38 L265.50,98.30 L265.75,98.22 L266.00,98.14 L266.25,98.06 L266.50,97.98 L266.75,97.90 L267.00,97.82 L267.25,97.74 L267.50,97.67 L267.75,97.59 L268.00,97.51 L268.25,97.44 L268.50,97.36 L268.75,97.29 L269.00,97.22 L269.25,97.14 L269.50,97.07 L269.75,97.00 L270.00,96.93 L270.25,96.85 L270.50,96.78 L270.75,96.71 L271.00,96.65 L271.25,96.58 L271.50,96.51 L271.75,96.44 L272.00,96.38 L272.25,96.31 L272.50,96.24 L272.75,96.18 L273.00,96.12 L273.25,96.05 L273.50,95.99 L273.75,95.93 L274.00,95.87 L274.25,95.81 L274.50,95.75 L274.75,95.69 L275.00,95.63 L275.25,95.57 L275.50,95.51 L275.75,95.46 L276.00,95.40 L276.25,95.35 L276.50,95.29 L276.75,95.24 L277.00,95.19 L277.25,95.14 L277.50,95.09 L277.75,95.04 L278.00,94.99 L278.25,94.94 L278.50,94.89 L278.75,94.84 L279.00,94.80 L279.25,94.75 L279.50,94.71 L279.75,94.66 L280.00,94.62 L280.25,94.58 L280.50,94.54 L280.75,94.50 L281.00,94.46 L281.25,94.42 L281.50,94.39 L281.75,94.35 L282.00,94.32 L282.25,94.28 L282.50,94.25 L282.75,94.22 L283.00,94.18 L283.25,94.15 L283.50,94.13 L283.75,94.10 L284.00,94.07 L284.25,94.04 L284.50,94.02 L284.75,93.99 L285.00,93.97 L285.25,93.95 L285.50,93.93 L285.75,93.91 L286.00,93.89 L286.25,93.87 L286.50,93.86 L286.75,93.84 L287.00,93.83 L287.25,93.81 L287.50,93.80 L287.75,93.79 L288.00,93.78 L288.25,93.77 L288.50,93.77 L288.75,93.76 L289.00,93.76 L289.25,93.75 L289.50,93.75 L289.75,93.75 L290.00,93.75 L290.25,93.75 L290.50,93.76 L290.75,93.76 L291.00,93.77 L291.25,93.77 L291.50,93.78 L291.75,93.79 L292.00,93.80 L292.25,93.82 L292.50,93.83 L292.75,93.85 L293.00,93.86 L293.25,93.88 L293.50,93.90 L293.75,93.92 L294.00,93.95 L294.25,93.97 L294.50,94.00 L294.75,94.03 L295.00,94.06 L295.25,94.09 L295.50,94.12 L295.75,94.15 L296.00,94.19 L296.25,94.23 L296.50,94.27 L296.75,94.31 L297.00,94.35 L297.25,94.39 L297.50,94.44 L297.75,94.49 L298.00,94.54 L298.25,94.59 L298.50,94.64 L298.75,94.69 L299.00,94.75 L299.25,94.81 L299.50,94.87 L299.75,94.93 L300.00,95.00 L300.25,95.06 L300.50,95.13 L300.75,95.20 L301.00,95.27 L301.25,95.35 L301.50,95.42 L301.75,95.50 L302.00,95.58 L302.25,95.66 L302.50,95.75 L302.75,95.84 L303.00,95.92 L303.25,96.02 L303.50,96.11 L303.75,96.20 L304.00,96.30 L304.25,96.40 L304.50,96.50 L304.75,96.61 L305.00,96.71 L305.25,96.82 L305.50,96.93 L305.75,97.05 L306.00,97.16 L306.25,97.28 L306.50,97.40 L306.75,97.53 L307.00,97.65 L307.25,97.78 L307.50,97.91 L307.75,98.05 L308.00,98.18 L308.25,98.32 L308.50,98.46 L308.75,98.61 L309.00,98.76 L309.25,98.91 L309.50,99.06 L309.75,99.21 L310.00,99.37 L310.25,99.53 L310.50,99.70 L310.75,99.87 L311.00,100.03 L311.25,100.21 L311.50,100.38 L311.75,100.56 L312.00,100.74 L312.25,100.93 L312.50,101.12 L312.75,101.31 L313.00,101.50 L313.25,101.70 L313.50,101.90 L313.75,102.11 L314.00,102.31 L314.25,102.52 L314.50,102.74 L314.75,102.96 L315.00,103.18 L315.25,103.40 L315.50,103.63 L315.75,103.86 L316.00,104.10 L316.25,104.34 L316.50,104.58 L316.75,104.82 L317.00,105.07 L317.25,105.33 L317.50,105.59 L317.75,105.85 L318.00,106.11 L318.25,106.38 L318.50,106.65 L318.75,106.93 L319.00,107.21 L319.25,107.50 L319.50,107.79 L319.75,108.08 L320.00,108.38 L320.25,108.68 L320.50,108.98 L320.75,109.29 L321.00,109.61 L321.25,109.93 L321.50,110.25 L321.75,110.58 L322.00,110.91 L322.25,111.25 L322.50,111.59 L322.75,111.93 L323.00,112.29 L323.25,112.64 L323.50,113.00 L323.75,113.37 L324.00,113.74 L324.25,114.11 L324.50,114.49 L324.75,114.88 L325.00,115.27 L325.25,115.66 L325.50,116.06 L325.75,116.47 L326.00,116.88 L326.25,117.30 L326.50,117.72 L326.75,118.15 L327.00,118.58 L327.25,119.02 L327.50,119.46 L327.75,119.91 L328.00,120.36 L328.25,120.83 L328.50,121.29 L328.75,121.77 L329.00,122.24 L329.25,122.73 L329.50,123.22 L329.75,123.72 L330.00,124.22 L330.25,124.73 L330.50,125.24 L330.75,125.77 L331.00,126.29 L331.25,126.83 L331.50,127.37 L331.75,127.92 L332.00,128.47 L332.25,129.03 L332.50,129.60 L332.75,130.18 L333.00,130.76 L333.25,131.35 L333.50,131.94 L333.75,132.55 L334.00,133.16 L334.25,133.78 L334.50,134.40 L334.75,135.03 L335.00,135.67 L335.25,136.32 L335.50,136.98 L335.75,137.64 L336.00,138.31 L336.25,138.99 L336.50,139.68 L336.75,140.37 L337.00,141.08 L337.25,141.79 L337.50,142.51 L337.75,143.23 L338.00,143.97 L338.25,144.72 L338.50,145.47 L338.75,146.23 L339.00,147.00 L339.25,147.78 L339.50,148.57 L339.75,149.37 L340.00,150.18 L340.25,150.99 L340.50,151.82 L340.75,152.65 L341.00,153.50 L341.25,154.35 L341.50,155.21 L341.75,156.09 L342.00,156.97 L342.25,157.86 L342.50,158.77 L342.75,159.68 L343.00,160.60 L343.25,161.54 L343.50,162.48 L343.75,163.44 L344.00,164.40 L344.25,165.38 L344.50,166.37 L344.75,167.37 L345.00,168.38 L345.25,169.40 L345.50,170.43 L345.75,171.47 L346.00,172.53 L346.25,173.60 L346.50,174.68 L346.75,175.77 L347.00,176.87 L347.25,177.98 L347.50,179.11 L347.75,180.25 L348.00,181.40 L348.25,182.57 L348.50,183.74 L348.75,184.93 L349.00,186.14 L349.25,187.35 L349.50,188.58 L349.75,189.83 L350.00,191.08 L350.25,192.35 L350.50,193.63 L350.75,194.93 L351.00,196.24 L351.25,197.57 L351.50,198.91 L351.75,200.26 L352.00,201.63 L352.25,203.02 L352.50,204.42 L352.75,205.83 L353.00,207.26 L353.25,208.70 L353.50,210.16 L353.75,211.64 L354.00,213.13 L354.25,214.64 L354.50,216.16 L354.75,217.70 L355.00,219.26 L355.25,220.83 L355.50,222.42 L355.75,224.03 L356.00,225.65 L356.25,227.29 L356.50,228.95 L356.75,230.62 L357.00,232.32 L357.25,234.03 L357.50,235.76 L357.75,237.51 L358.00,239.27 L358.25,241.06 L358.50,242.86 L358.75,244.68 L359.00,246.53 L359.25,248.39 L359.50,250.27 L359.75,252.17 L360.00,254.09 L360.25,256.03 L360.50,257.99 L360.75,259.97 L361.00,261.98 L361.25,264.00 L361.27,264.20" stroke="#56b4e9" stroke-width="2.3"/>
<path d="M57.50,239.54 L57.75,239.36 L58.00,239.17 L58.25,238.98 L58.50,238.79 L58.75,238.61 L59.00,238.42 L59.25,238.23 L59.50,238.04 L59.75,237.86 L60.00,237.67 L60.25,237.48 L60.50,237.29 L60.75,237.11 L61.00,236.92 L61.25,236.73 L61.50,236.54 L61.75,236.36 L62.00,236.17 L62.25,235.98 L62.50,235.79 L62.75,235.60 L63.00,235.42 L63.25,235.23 L63.50,235.04 L63.75,234.85 L64.00,234.67 L64.25,234.48 L64.50,234.29 L64.75,234.10 L65.00,233.92 L65.25,233.73 L65.50,233.54 L65.75,233.35 L66.00,233.17 L66.25,232.98 L66.50,232.79 L66.75,232.60 L67.00,232.42 L67.25,232.23 L67.50,232.04 L67.75,231.85 L68.00,231.67 L68.25,231.48 L68.50,231.29 L68.75,231.10 L69.00,230.92 L69.25,230.73 L69.50,230.54 L69.75,230.35 L70.00,230.16 L70.25,229.98 L70.50,229.79 L70.75,229.60 L71.00,229.41 L71.25,229.23 L71.50,229.04 L71.75,228.85 L72.00,228.66 L72.25,228.48 L72.50,228.29 L72.75,228.10 L73.00,227.91 L73.25,227.73 L73.50,227.54 L73.75,227.35 L74.00,227.16 L74.25,226.98 L74.50,226.79 L74.75,226.60 L75.00,226.41 L75.25,226.23 L75.50,226.04 L75.75,225.85 L76.00,225.66 L76.25,225.48 L76.50,225.29 L76.75,225.10 L77.00,224.91 L77.25,224.73 L77.50,224.54 L77.75,224.35 L78.00,224.16 L78.25,223.97 L78.50,223.79 L78.75,223.60 L79.00,223.41 L79.25,223.22 L79.50,223.04 L79.75,222.85 L80.00,222.66 L80.25,222.47 L80.50,222.29 L80.75,222.10 L81.00,221.91 L81.25,221.72 L81.50,221.54 L81.75,221.35 L82.00,221.16 L82.25,220.97 L82.50,220.79 L82.75,220.60 L83.00,220.41 L83.25,220.22 L83.50,220.04 L83.75,219.85 L84.00,219.66 L84.25,219.47 L84.50,219.29 L84.75,219.10 L85.00,218.91 L85.25,218.72 L85.50,218.53 L85.75,218.35 L86.00,218.16 L86.25,217.97 L86.50,217.78 L86.75,217.60 L87.00,217.41 L87.25,217.22 L87.50,217.03 L87.75,216.85 L88.00,216.66 L88.25,216.47 L88.50,216.28 L88.75,216.10 L89.00,215.91 L89.25,215.72 L89.50,215.53 L89.75,215.35 L90.00,215.16 L90.25,214.97 L90.50,214.78 L90.75,214.60 L91.00,214.41 L91.25,214.22 L91.50,214.03 L91.75,213.85 L92.00,213.66 L92.25,213.47 L92.50,213.28 L92.75,213.10 L93.00,212.91 L93.25,212.72 L93.50,212.53 L93.75,212.34 L94.00,212.16 L94.25,211.97 L94.50,211.78 L94.75,211.59 L95.00,211.41 L95.25,211.22 L95.50,211.03 L95.75,210.84 L96.00,210.66 L96.25,210.47 L96.50,210.28 L96.75,210.09 L97.00,209.91 L97.25,209.72 L97.50,209.53 L97.75,209.34 L98.00,209.16 L98.25,208.97 L98.50,208.78 L98.75,208.59 L99.00,208.41 L99.25,208.22 L99.50,208.03 L99.75,207.84 L100.00,207.66 L100.25,207.47 L100.50,207.28 L100.75,207.09 L101.00,206.91 L101.25,206.72 L101.50,206.53 L101.75,206.34 L102.00,206.15 L102.25,205.97 L102.50,205.78 L102.75,205.59 L103.00,205.40 L103.25,205.22 L103.50,205.03 L103.75,204.84 L104.00,204.65 L104.25,204.47 L104.50,204.28 L104.75,204.09 L105.00,203.90 L105.25,203.72 L105.50,203.53 L105.75,203.34 L106.00,203.15 L106.25,202.97 L106.50,202.78 L106.75,202.59 L107.00,202.40 L107.25,202.22 L107.50,202.03 L107.75,201.84 L108.00,201.65 L108.25,201.47 L108.50,201.28 L108.75,201.09 L109.00,200.90 L109.25,200.72 L109.50,200.53 L109.75,200.34 L110.00,200.15 L110.25,199.96 L110.50,199.78 L110.75,199.59 L111.00,199.40 L111.25,199.21 L111.50,199.03 L111.75,198.84 L112.00,198.65 L112.25,198.46 L112.50,198.28 L112.75,198.09 L113.00,197.90 L113.25,197.71 L113.50,197.53 L113.75,197.34 L114.00,197.15 L114.25,196.96 L114.50,196.78 L114.75,196.59 L115.00,196.40 L115.25,196.21 L115.50,196.03 L115.75,195.84 L116.00,195.65 L116.25,195.46 L116.50,195.28 L116.75,195.09 L117.00,194.90 L117.25,194.71 L117.50,194.53 L117.75,194.34 L118.00,194.15 L118.25,193.96 L118.50,193.77 L118.75,193.59 L119.00,193.40 L119.25,193.21 L119.50,193.02 L119.75,192.84 L120.00,192.65 L120.25,192.46 L120.50,192.27 L120.75,192.09 L121.00,191.90 L121.25,191.71 L121.50,191.52 L121.75,191.34 L122.00,191.15 L122.25,190.96 L122.50,190.77 L122.75,190.59 L123.00,190.40 L123.25,190.21 L123.50,190.02 L123.75,189.84 L124.00,189.65 L124.25,189.46 L124.50,189.27 L124.75,189.09 L125.00,188.90 L125.25,188.71 L125.50,188.52 L125.75,188.34 L126.00,188.15 L126.25,187.96 L126.50,187.77 L126.75,187.58 L127.00,187.40 L127.25,187.21 L127.50,187.02 L127.75,186.83 L128.00,186.65 L128.25,186.46 L128.50,186.27 L128.75,186.08 L129.00,185.90 L129.25,185.71 L129.50,185.52 L129.75,185.33 L130.00,185.15 L130.25,184.96 L130.50,184.77 L130.75,184.58 L131.00,184.40 L131.25,184.21 L131.50,184.02 L131.75,183.83 L132.00,183.65 L132.25,183.46 L132.50,183.27 L132.75,183.08 L133.00,182.90 L133.25,182.71 L133.50,182.52 L133.75,182.33 L134.00,182.15 L134.25,181.96 L134.50,181.77 L134.75,181.58 L135.00,181.40 L135.25,181.21 L135.50,181.02 L135.75,180.83 L136.00,180.64 L136.25,180.46 L136.50,180.27 L136.75,180.08 L137.00,179.89 L137.25,179.71 L137.50,179.52 L137.75,179.33 L138.00,179.14 L138.25,178.96 L138.50,178.77 L138.75,178.58 L139.00,178.39 L139.25,178.21 L139.50,178.02 L139.75,177.83 L140.00,177.64 L140.25,177.46 L140.50,177.27 L140.75,177.08 L141.00,176.89 L141.25,176.71 L141.50,176.52 L141.75,176.33 L142.00,176.14 L142.25,175.96 L142.50,175.77 L142.75,175.58 L143.00,175.39 L143.25,175.21 L143.50,175.02 L143.75,174.83 L144.00,174.64 L144.25,174.46 L144.50,174.27 L144.75,174.08 L145.00,173.89 L145.25,173.71 L145.50,173.52 L145.75,173.33 L146.00,173.14 L146.25,172.96 L146.50,172.77 L146.75,172.58 L147.00,172.39 L147.25,172.20 L147.50,172.02 L147.75,171.83 L148.00,171.64 L148.25,171.45 L148.50,171.27 L148.75,171.08 L149.00,170.89 L149.25,170.70 L149.50,170.52 L149.75,170.33 L150.00,170.14 L150.25,169.95 L150.50,169.77 L150.75,169.58 L151.00,169.39 L151.25,169.20 L151.50,169.02 L151.75,168.83 L152.00,168.64 L152.25,168.45 L152.50,168.27 L152.75,168.08 L153.00,167.89 L153.25,167.70 L153.50,167.52 L153.75,167.33 L154.00,167.14 L154.25,166.95 L154.50,166.77 L154.75,166.58 L155.00,166.39 L155.25,166.20 L155.50,166.02 L155.75,165.83 L156.00,165.64 L156.25,165.45 L156.50,165.27 L156.75,165.08 L157.00,164.89 L157.25,164.70 L157.50,164.52 L157.75,164.33 L158.00,164.14 L158.25,163.95 L158.50,163.77 L158.75,163.58 L159.00,163.39 L159.25,163.20 L159.50,163.02 L159.75,162.83 L160.00,162.64 L160.25,162.45 L160.50,162.27 L160.75,162.08 L161.00,161.89 L161.25,161.70 L161.50,161.52 L161.75,161.33 L162.00,161.14 L162.25,160.95 L162.50,160.77 L162.75,160.58 L163.00,160.39 L163.25,160.20 L163.50,160.02 L163.75,159.83 L164.00,159.64 L164.25,159.45 L164.50,159.27 L164.75,159.08 L165.00,158.89 L165.25,158.70 L165.50,158.52 L165.75,158.33 L166.00,158.14 L166.25,157.95 L166.50,157.77 L166.75,157.58 L167.00,157.39 L167.25,157.20 L167.50,157.02 L167.75,156.83 L168.00,156.64 L168.25,156.45 L168.50,156.27 L168.75,156.08 L169.00,155.89 L169.25,155.70 L169.50,155.52 L169.75,155.33 L170.00,155.14 L170.25,154.95 L170.50,154.77 L170.75,154.58 L171.00,154.39 L171.25,154.20 L171.50,154.02 L171.75,153.83 L172.00,153.64 L172.25,153.45 L172.50,153.27 L172.75,153.08 L173.00,152.89 L173.25,152.70 L173.50,152.52 L173.75,152.33 L174.00,152.14 L174.25,151.95 L174.50,151.77 L174.75,151.58 L175.00,151.39 L175.25,151.20 L175.50,151.02 L175.75,150.83 L176.00,150.64 L176.25,150.45 L176.50,150.27 L176.75,150.08 L177.00,149.89 L177.25,149.70 L177.50,149.52 L177.75,149.33 L178.00,149.14 L178.25,148.95 L178.50,148.77 L178.75,148.58 L179.00,148.39 L179.25,148.20 L179.50,148.02 L179.75,147.83 L180.00,147.64 L180.25,147.45 L180.50,147.27 L180.75,147.08 L181.00,146.89 L181.25,146.71 L181.50,146.52 L181.75,146.33 L182.00,146.14 L182.25,145.96 L182.50,145.77 L182.75,145.58 L183.00,145.39 L183.25,145.21 L183.50,145.02 L183.75,144.83 L184.00,144.64 L184.25,144.46 L184.50,144.27 L184.75,144.08 L185.00,143.89 L185.25,143.71 L185.50,143.52 L185.75,143.33 L186.00,143.14 L186.25,142.96 L186.50,142.77 L186.75,142.58 L187.00,142.40 L187.25,142.21 L187.50,142.02 L187.75,141.83 L188.00,141.65 L188.25,141.46 L188.50,141.27 L188.75,141.08 L189.00,140.90 L189.25,140.71 L189.50,140.52 L189.75,140.33 L190.00,140.15 L190.25,139.96 L190.50,139.77 L190.75,139.59 L191.00,139.40 L191.25,139.21 L191.50,139.02 L191.75,138.84 L192.00,138.65 L192.25,138.46 L192.50,138.27 L192.75,138.09 L193.00,137.90 L193.25,137.71 L193.50,137.53 L193.75,137.34 L194.00,137.15 L194.25,136.96 L194.50,136.78 L194.75,136.59 L195.00,136.40 L195.25,136.22 L195.50,136.03 L195.75,135.84 L196.00,135.65 L196.25,135.47 L196.50,135.28 L196.75,135.09 L197.00,134.90 L197.25,134.72 L197.50,134.53 L197.75,134.34 L198.00,134.16 L198.25,133.97 L198.50,133.78 L198.75,133.59 L199.00,133.41 L199.25,133.22 L199.50,133.03 L199.75,132.85 L200.00,132.66 L200.25,132.47 L200.50,132.28 L200.75,132.10 L201.00,131.91 L201.25,131.72 L201.50,131.54 L201.75,131.35 L202.00,131.16 L202.25,130.98 L202.50,130.79 L202.75,130.60 L203.00,130.41 L203.25,130.23 L203.50,130.04 L203.75,129.85 L204.00,129.67 L204.25,129.48 L204.50,129.29 L204.75,129.10 L205.00,128.92 L205.25,128.73 L205.50,128.54 L205.75,128.36 L206.00,128.17 L206.25,127.98 L206.50,127.80 L206.75,127.61 L207.00,127.42 L207.25,127.24 L207.50,127.05 L207.75,126.86 L208.00,126.67 L208.25,126.49 L208.50,126.30 L208.75,126.11 L209.00,125.93 L209.25,125.74 L209.50,125.55 L209.75,125.37 L210.00,125.18 L210.25,124.99 L210.50,124.81 L210.75,124.62 L211.00,124.43 L211.25,124.25 L211.50,124.06 L211.75,123.87 L212.00,123.69 L212.25,123.50 L212.50,123.31 L212.75,123.13 L213.00,122.94 L213.25,122.75 L213.50,122.57 L213.75,122.38 L214.00,122.19 L214.25,122.01 L214.50,121.82 L214.75,121.63 L215.00,121.45 L215.25,121.26 L215.50,121.07 L215.75,120.89 L216.00,120.70 L216.25,120.51 L216.50,120.33 L216.75,120.14 L217.00,119.95 L217.25,119.77 L217.50,119.58 L217.75,119.39 L218.00,119.21 L218.25,119.02 L218.50,118.84 L218.75,118.65 L219.00,118.46 L219.25,118.28 L219.50,118.09 L219.75,117.90 L220.00,117.72 L220.25,117.53 L220.50,117.35 L220.75,117.16 L221.00,116.97 L221.25,116.79 L221.50,116.60 L221.75,116.41 L222.00,116.23 L222.25,116.04 L222.50,115.86 L222.75,115.67 L223.00,115.48 L223.25,115.30 L223.50,115.11 L223.75,114.93 L224.00,114.74 L224.25,114.55 L224.50,114.37 L224.75,114.18 L225.00,114.00 L225.25,113.81 L225.50,113.62 L225.75,113.44 L226.00,113.25 L226.25,113.07 L226.50,112.88 L226.75,112.70 L227.00,112.51 L227.25,112.32 L227.50,112.14 L227.75,111.95 L228.00,111.77 L228.25,111.58 L228.50,111.40 L228.75,111.21 L229.00,111.03 L229.25,110.84 L229.50,110.65 L229.75,110.47 L230.00,110.28 L230.25,110.10 L230.50,109.91 L230.75,109.73 L231.00,109.54 L231.25,109.36 L231.50,109.17 L231.75,108.99 L232.00,108.80 L232.25,108.62 L232.50,108.43 L232.75,108.25 L233.00,108.06 L233.25,107.88 L233.50,107.69 L233.75,107.51 L234.00,107.32 L234.25,107.14 L234.50,106.95 L234.75,106.77 L235.00,106.58 L235.25,106.40 L235.50,106.21 L235.75,106.03 L236.00,105.84 L236.25,105.66 L236.50,105.48 L236.75,105.29 L237.00,105.11 L237.25,104.92 L237.50,104.74 L237.75,104.55 L238.00,104.37 L238.25,104.19 L238.50,104.00 L238.75,103.82 L239.00,103.63 L239.25,103.45 L239.50,103.26 L239.75,103.08 L240.00,102.90 L240.25,102.71 L240.50,102.53 L240.75,102.35 L241.00,102.16 L241.25,101.98 L241.50,101.79 L241.75,101.61 L242.00,101.43 L242.25,101.24 L242.50,101.06 L242.75,100.88 L243.00,100.69 L243.25,100.51 L243.50,100.33 L243.75,100.15 L244.00,99.96 L244.25,99.78 L244.50,99.60 L244.75,99.41 L245.00,99.23 L245.25,99.05 L245.50,98.87 L245.75,98.68 L246.00,98.50 L246.25,98.32 L246.50,98.14 L246.75,97.95 L247.00,97.77 L247.25,97.59 L247.50,97.41 L247.75,97.22 L248.00,97.04 L248.25,96.86 L248.50,96.68 L248.75,96.50 L249.00,96.32 L249.25,96.13 L249.50,95.95 L249.75,95.77 L250.00,95.59 L250.25,95.41 L250.50,95.23 L250.75,95.05 L251.00,94.87 L251.25,94.68 L251.50,94.50 L251.75,94.32 L252.00,94.14 L252.25,93.96 L252.50,93.78 L252.75,93.60 L253.00,93.42 L253.25,93.24 L253.50,93.06 L253.75,92.88 L254.00,92.70 L254.25,92.52 L254.50,92.34 L254.75,92.16 L255.00,91.98 L255.25,91.80 L255.50,91.62 L255.75,91.44 L256.00,91.27 L256.25,91.09 L256.50,90.91 L256.75,90.73 L257.00,90.55 L257.25,90.37 L257.50,90.19 L257.75,90.02 L258.00,89.84 L258.25,89.66 L258.50,89.48 L258.75,89.30 L259.00,89.13 L259.25,88.95 L259.50,88.77 L259.75,88.59 L260.00,88.42 L260.25,88.24 L260.50,88.06 L260.75,87.89 L261.00,87.71 L261.25,87.53 L261.50,87.36 L261.75,87.18 L262.00,87.01 L262.25,86.83 L262.50,86.65 L262.75,86.48 L263.00,86.30 L263.25,86.13 L263.50,85.95 L263.75,85.78 L264.00,85.60 L264.25,85.43 L264.50,85.26 L264.75,85.08 L265.00,84.91 L265.25,84.73 L265.50,84.56 L265.75,84.39 L266.00,84.21 L266.25,84.04 L266.50,83.87 L266.75,83.69 L267.00,83.52 L267.25,83.35 L267.50,83.18 L267.75,83.01 L268.00,82.83 L268.25,82.66 L268.50,82.49 L268.75,82.32 L269.00,82.15 L269.25,81.98 L269.50,81.81 L269.75,81.64 L270.00,81.47 L270.25,81.30 L270.50,81.13 L270.75,80.96 L271.00,80.79 L271.25,80.62 L271.50,80.46 L271.75,80.29 L272.00,80.12 L272.25,79.95 L272.50,79.78 L272.75,79.62 L273.00,79.45 L273.25,79.28 L273.50,79.12 L273.75,78.95 L274.00,78.79 L274.25,78.62 L274.50,78.46 L274.75,78.29 L275.00,78.13 L275.25,77.96 L275.50,77.80 L275.75,77.63 L276.00,77.47 L276.25,77.31 L276.50,77.14 L276.75,76.98 L277.00,76.82 L277.25,76.66 L277.50,76.50 L277.75,76.34 L278.00,76.18 L278.25,76.01 L278.50,75.85 L278.75,75.70 L279.00,75.54 L279.25,75.38 L279.50,75.22 L279.75,75.06 L280.00,74.90 L280.25,74.75 L280.50,74.59 L280.75,74.43 L281.00,74.28 L281.25,74.12 L281.50,73.96 L281.75,73.81 L282.00,73.66 L282.25,73.50 L282.50,73.35 L282.75,73.19 L283.00,73.04 L283.25,72.89 L283.50,72.74 L283.75,72.59 L284.00,72.44 L284.25,72.29 L284.50,72.14 L284.75,71.99 L285.00,71.84 L285.25,71.69 L285.50,71.54 L285.75,71.39 L286.00,71.25 L286.25,71.10 L286.50,70.96 L286.75,70.81 L287.00,70.67 L287.25,70.52 L287.50,70.38 L287.75,70.23 L288.00,70.09 L288.25,69.95 L288.50,69.81 L288.75,69.67 L289.00,69.53 L289.25,69.39 L289.50,69.25 L289.75,69.11 L290.00,68.98 L290.25,68.84 L290.50,68.70 L290.75,68.57 L291.00,68.43 L291.25,68.30 L291.50,68.17 L291.75,68.03 L292.00,67.90 L292.25,67.77 L292.50,67.64 L292.75,67.51 L293.00,67.38 L293.25,67.25 L293.50,67.13 L293.75,67.00 L294.00,66.87 L294.25,66.75 L294.50,66.63 L294.75,66.50 L295.00,66.38 L295.25,66.26 L295.50,66.14 L295.75,66.02 L296.00,65.90 L296.25,65.78 L296.50,65.66 L296.75,65.55 L297.00,65.43 L297.25,65.32 L297.50,65.21 L297.75,65.09 L298.00,64.98 L298.25,64.87 L298.50,64.76 L298.75,64.65 L299.00,64.55 L299.25,64.44 L299.50,64.34 L299.75,64.23 L300.00,64.13 L300.25,64.03 L300.50,63.93 L300.75,63.83 L301.00,63.73 L301.25,63.63 L301.50,63.53 L301.75,63.44 L302.00,63.35 L302.25,63.25 L302.50,63.16 L302.75,63.07 L303.00,62.98 L303.25,62.90 L303.50,62.81 L303.75,62.73 L304.00,62.64 L304.25,62.56 L304.50,62.48 L304.75,62.40 L305.00,62.32 L305.25,62.25 L305.50,62.17 L305.75,62.10 L306.00,62.03 L306.25,61.96 L306.50,61.89 L306.75,61.82 L307.00,61.75 L307.25,61.69 L307.50,61.63 L307.75,61.57 L308.00,61.51 L308.25,61.45 L308.50,61.39 L308.75,61.34 L309.00,61.29 L309.25,61.24 L309.50,61.19 L309.75,61.14 L310.00,61.10 L310.25,61.05 L310.50,61.01 L310.75,60.97 L311.00,60.94 L311.25,60.90 L311.50,60.87 L311.75,60.83 L312.00,60.81 L312.25,60.78 L312.50,60.75 L312.75,60.73 L313.00,60.71 L313.25,60.69 L313.50,60.67 L313.75,60.66 L314.00,60.65 L314.25,60.64 L314.50,60.63 L314.75,60.62 L315.00,60.62 L315.25,60.62 L315.50,60.62 L315.75,60.63 L316.00,60.64 L316.25,60.65 L316.50,60.66 L316.75,60.67 L317.00,60.69 L317.25,60.71 L317.50,60.73 L317.75,60.76 L318.00,60.79 L318.25,60.82 L318.50,60.85 L318.75,60.89 L319.00,60.93 L319.25,60.98 L319.50,61.02 L319.75,61.07 L320.00,61.12 L320.25,61.18 L320.50,61.24 L320.75,61.30 L321.00,61.36 L321.25,61.43 L321.50,61.51 L321.75,61.58 L322.00,61.66 L322.25,61.74 L322.50,61.83 L322.75,61.92 L323.00,62.01 L323.25,62.11 L323.50,62.21 L323.75,62.31 L324.00,62.42 L324.25,62.53 L324.50,62.65 L324.75,62.77 L325.00,62.89 L325.25,63.02 L325.50,63.15 L325.75,63.29 L326.00,63.43 L326.25,63.57 L326.50,63.72 L326.75,63.88 L327.00,64.03 L327.25,64.20 L327.50,64.36 L327.75,64.53 L328.00,64.71 L328.25,64.89 L328.50,65.08 L328.75,65.27 L329.00,65.47 L329.25,65.67 L329.50,65.87 L329.75,66.08 L330.00,66.30 L330.25,66.52 L330.50,66.75 L330.75,66.98 L331.00,67.22 L331.25,67.46 L331.50,67.71 L331.75,67.97 L332.00,68.23 L332.25,68.50 L332.50,68.77 L332.75,69.05 L333.00,69.33 L333.25,69.62 L333.50,69.92 L333.75,70.23 L334.00,70.54 L334.25,70.85 L334.50,71.18 L334.75,71.51 L335.00,71.84 L335.25,72.19 L335.50,72.54 L335.75,72.90 L336.00,73.26 L336.25,73.63 L336.50,74.01 L336.75,74.40 L337.00,74.79 L337.25,75.20 L337.50,75.61 L337.75,76.02 L338.00,76.45 L338.25,76.88 L338.50,77.32 L338.75,77.77 L339.00,78.23 L339.25,78.70 L339.50,79.18 L339.75,79.66 L340.00,80.15 L340.25,80.65 L340.50,81.17 L340.75,81.69 L341.00,82.21 L341.25,82.75 L341.50,83.30 L341.75,83.86 L342.00,84.43 L342.25,85.01 L342.50,85.59 L342.75,86.19 L343.00,86.80 L343.25,87.42 L343.50,88.05 L343.75,88.69 L344.00,89.34 L344.25,90.00 L344.50,90.67 L344.75,91.36 L345.00,92.05 L345.25,92.76 L345.50,93.48 L345.75,94.21 L346.00,94.95 L346.25,95.71 L346.50,96.47 L346.75,97.25 L347.00,98.05 L347.25,98.85 L347.50,99.67 L347.75,100.50 L348.00,101.35 L348.25,102.21 L348.50,103.08 L348.75,103.96 L349.00,104.86 L349.25,105.78 L349.50,106.71 L349.75,107.65 L350.00,108.61 L350.25,109.58 L350.50,110.57 L350.75,111.58 L351.00,112.60 L351.25,113.63 L351.50,114.68 L351.75,115.75 L352.00,116.84 L352.25,117.94 L352.50,119.06 L352.75,120.19 L353.00,121.34 L353.25,122.51 L353.50,123.70 L353.75,124.91 L354.00,126.13 L354.25,127.37 L354.50,128.64 L354.75,129.92 L355.00,131.22 L355.25,132.53 L355.50,133.87 L355.75,135.23 L356.00,136.61 L356.25,138.01 L356.50,139.43 L356.75,140.87 L357.00,142.34 L357.25,143.82 L357.50,145.33 L357.75,146.86 L358.00,148.41 L358.25,149.98 L358.50,151.58 L358.75,153.20 L359.00,154.85 L359.25,156.51 L359.50,158.21 L359.75,159.92 L360.00,161.67 L360.25,163.43 L360.50,165.23 L360.75,167.05 L361.00,168.89 L361.25,170.76 L361.50,172.66 L361.75,174.59 L362.00,176.55 L362.25,178.53 L362.50,180.54 L362.75,182.58 L363.00,184.65 L363.25,186.75 L363.50,188.88 L363.75,191.03 L364.00,193.22 L364.25,195.45 L364.50,197.70 L364.75,199.98 L365.00,202.30 L365.25,204.65 L365.50,207.03 L365.75,209.45 L366.00,211.90 L366.25,214.39 L366.50,216.91 L366.75,219.46 L367.00,222.05 L367.25,224.68 L367.50,227.35 L367.75,230.05 L368.00,232.79 L368.25,235.57 L368.50,238.39 L368.75,241.25 L369.00,244.15 L369.25,247.08 L369.50,250.06 L369.75,253.08 L370.00,256.15 L370.25,259.25 L370.50,262.40 L370.64,264.20" stroke="#56b4e9" stroke-width="2.5" stroke-dasharray="0.7 3.3" stroke-linecap="round"/>
<path d="M57.50,232.16 L57.75,232.02 L58.00,231.89 L58.25,231.76 L58.50,231.63 L58.75,231.49 L59.00,231.36 L59.25,231.23 L59.50,231.10 L59.75,230.96 L60.00,230.83 L60.25,230.70 L60.50,230.57 L60.75,230.43 L61.00,230.30 L61.25,230.17 L61.50,230.04 L61.75,229.90 L62.00,229.77 L62.25,229.64 L62.50,229.51 L62.75,229.38 L63.00,229.24 L63.25,229.11 L63.50,228.98 L63.75,228.85 L64.00,228.71 L64.25,228.58 L64.50,228.45 L64.75,228.32 L65.00,228.18 L65.25,228.05 L65.50,227.92 L65.75,227.79 L66.00,227.65 L66.25,227.52 L66.50,227.39 L66.75,227.26 L67.00,227.12 L67.25,226.99 L67.50,226.86 L67.75,226.73 L68.00,226.59 L68.25,226.46 L68.50,226.33 L68.75,226.20 L69.00,226.06 L69.25,225.93 L69.50,225.80 L69.75,225.67 L70.00,225.54 L70.25,225.40 L70.50,225.27 L70.75,225.14 L71.00,225.01 L71.25,224.87 L71.50,224.74 L71.75,224.61 L72.00,224.48 L72.25,224.34 L72.50,224.21 L72.75,224.08 L73.00,223.95 L73.25,223.81 L73.50,223.68 L73.75,223.55 L74.00,223.42 L74.25,223.28 L74.50,223.15 L74.75,223.02 L75.00,222.89 L75.25,222.75 L75.50,222.62 L75.75,222.49 L76.00,222.36 L76.25,222.22 L76.50,222.09 L76.75,221.96 L77.00,221.83 L77.25,221.70 L77.50,221.56 L77.75,221.43 L78.00,221.30 L78.25,221.17 L78.50,221.03 L78.75,220.90 L79.00,220.77 L79.25,220.64 L79.50,220.50 L79.75,220.37 L80.00,220.24 L80.25,220.11 L80.50,219.97 L80.75,219.84 L81.00,219.71 L81.25,219.58 L81.50,219.44 L81.75,219.31 L82.00,219.18 L82.25,219.05 L82.50,218.91 L82.75,218.78 L83.00,218.65 L83.25,218.52 L83.50,218.39 L83.75,218.25 L84.00,218.12 L84.25,217.99 L84.50,217.86 L84.75,217.72 L85.00,217.59 L85.25,217.46 L85.50,217.33 L85.75,217.19 L86.00,217.06 L86.25,216.93 L86.50,216.80 L86.75,216.66 L87.00,216.53 L87.25,216.40 L87.50,216.27 L87.75,216.13 L88.00,216.00 L88.25,215.87 L88.50,215.74 L88.75,215.60 L89.00,215.47 L89.25,215.34 L89.50,215.21 L89.75,215.08 L90.00,214.94 L90.25,214.81 L90.50,214.68 L90.75,214.55 L91.00,214.41 L91.25,214.28 L91.50,214.15 L91.75,214.02 L92.00,213.88 L92.25,213.75 L92.50,213.62 L92.75,213.49 L93.00,213.35 L93.25,213.22 L93.50,213.09 L93.75,212.96 L94.00,212.82 L94.25,212.69 L94.50,212.56 L94.75,212.43 L95.00,212.30 L95.25,212.16 L95.50,212.03 L95.75,211.90 L96.00,211.77 L96.25,211.63 L96.50,211.50 L96.75,211.37 L97.00,211.24 L97.25,211.10 L97.50,210.97 L97.75,210.84 L98.00,210.71 L98.25,210.57 L98.50,210.44 L98.75,210.31 L99.00,210.18 L99.25,210.04 L99.50,209.91 L99.75,209.78 L100.00,209.65 L100.25,209.52 L100.50,209.38 L100.75,209.25 L101.00,209.12 L101.25,208.99 L101.50,208.85 L101.75,208.72 L102.00,208.59 L102.25,208.46 L102.50,208.32 L102.75,208.19 L103.00,208.06 L103.25,207.93 L103.50,207.79 L103.75,207.66 L104.00,207.53 L104.25,207.40 L104.50,207.26 L104.75,207.13 L105.00,207.00 L105.25,206.87 L105.50,206.74 L105.75,206.60 L106.00,206.47 L106.25,206.34 L106.50,206.21 L106.75,206.07 L107.00,205.94 L107.25,205.81 L107.50,205.68 L107.75,205.54 L108.00,205.41 L108.25,205.28 L108.50,205.15 L108.75,205.01 L109.00,204.88 L109.25,204.75 L109.50,204.62 L109.75,204.49 L110.00,204.35 L110.25,204.22 L110.50,204.09 L110.75,203.96 L111.00,203.82 L111.25,203.69 L111.50,203.56 L111.75,203.43 L112.00,203.29 L112.25,203.16 L112.50,203.03 L112.75,202.90 L113.00,202.76 L113.25,202.63 L113.50,202.50 L113.75,202.37 L114.00,202.24 L114.25,202.10 L114.50,201.97 L114.75,201.84 L115.00,201.71 L115.25,201.57 L115.50,201.44 L115.75,201.31 L116.00,201.18 L116.25,201.04 L116.50,200.91 L116.75,200.78 L117.00,200.65 L117.25,200.52 L117.50,200.38 L117.75,200.25 L118.00,200.12 L118.25,199.99 L118.50,199.85 L118.75,199.72 L119.00,199.59 L119.25,199.46 L119.50,199.32 L119.75,199.19 L120.00,199.06 L120.25,198.93 L120.50,198.79 L120.75,198.66 L121.00,198.53 L121.25,198.40 L121.50,198.27 L121.75,198.13 L122.00,198.00 L122.25,197.87 L122.50,197.74 L122.75,197.60 L123.00,197.47 L123.25,197.34 L123.50,197.21 L123.75,197.07 L124.00,196.94 L124.25,196.81 L124.50,196.68 L124.75,196.55 L125.00,196.41 L125.25,196.28 L125.50,196.15 L125.75,196.02 L126.00,195.88 L126.25,195.75 L126.50,195.62 L126.75,195.49 L127.00,195.36 L127.25,195.22 L127.50,195.09 L127.75,194.96 L128.00,194.83 L128.25,194.69 L128.50,194.56 L128.75,194.43 L129.00,194.30 L129.25,194.16 L129.50,194.03 L129.75,193.90 L130.00,193.77 L130.25,193.64 L130.50,193.50 L130.75,193.37 L131.00,193.24 L131.25,193.11 L131.50,192.97 L131.75,192.84 L132.00,192.71 L132.25,192.58 L132.50,192.45 L132.75,192.31 L133.00,192.18 L133.25,192.05 L133.50,191.92 L133.75,191.78 L134.00,191.65 L134.25,191.52 L134.50,191.39 L134.75,191.26 L135.00,191.12 L135.25,190.99 L135.50,190.86 L135.75,190.73 L136.00,190.59 L136.25,190.46 L136.50,190.33 L136.75,190.20 L137.00,190.07 L137.25,189.93 L137.50,189.80 L137.75,189.67 L138.00,189.54 L138.25,189.40 L138.50,189.27 L138.75,189.14 L139.00,189.01 L139.25,188.88 L139.50,188.74 L139.75,188.61 L140.00,188.48 L140.25,188.35 L140.50,188.21 L140.75,188.08 L141.00,187.95 L141.25,187.82 L141.50,187.69 L141.75,187.55 L142.00,187.42 L142.25,187.29 L142.50,187.16 L142.75,187.03 L143.00,186.89 L143.25,186.76 L143.50,186.63 L143.75,186.50 L144.00,186.36 L144.25,186.23 L144.50,186.10 L144.75,185.97 L145.00,185.84 L145.25,185.70 L145.50,185.57 L145.75,185.44 L146.00,185.31 L146.25,185.18 L146.50,185.04 L146.75,184.91 L147.00,184.78 L147.25,184.65 L147.50,184.51 L147.75,184.38 L148.00,184.25 L148.25,184.12 L148.50,183.99 L148.75,183.85 L149.00,183.72 L149.25,183.59 L149.50,183.46 L149.75,183.33 L150.00,183.19 L150.25,183.06 L150.50,182.93 L150.75,182.80 L151.00,182.67 L151.25,182.53 L151.50,182.40 L151.75,182.27 L152.00,182.14 L152.25,182.01 L152.50,181.87 L152.75,181.74 L153.00,181.61 L153.25,181.48 L153.50,181.35 L153.75,181.21 L154.00,181.08 L154.25,180.95 L154.50,180.82 L154.75,180.69 L155.00,180.55 L155.25,180.42 L155.50,180.29 L155.75,180.16 L156.00,180.03 L156.25,179.89 L156.50,179.76 L156.75,179.63 L157.00,179.50 L157.25,179.37 L157.50,179.23 L157.75,179.10 L158.00,178.97 L158.25,178.84 L158.50,178.71 L158.75,178.57 L159.00,178.44 L159.25,178.31 L159.50,178.18 L159.75,178.05 L160.00,177.91 L160.25,177.78 L160.50,177.65 L160.75,177.52 L161.00,177.39 L161.25,177.26 L161.50,177.12 L161.75,176.99 L162.00,176.86 L162.25,176.73 L162.50,176.60 L162.75,176.46 L163.00,176.33 L163.25,176.20 L163.50,176.07 L163.75,175.94 L164.00,175.81 L164.25,175.67 L164.50,175.54 L164.75,175.41 L165.00,175.28 L165.25,175.15 L165.50,175.01 L165.75,174.88 L166.00,174.75 L166.25,174.62 L166.50,174.49 L166.75,174.36 L167.00,174.22 L167.25,174.09 L167.50,173.96 L167.75,173.83 L168.00,173.70 L168.25,173.57 L168.50,173.43 L168.75,173.30 L169.00,173.17 L169.25,173.04 L169.50,172.91 L169.75,172.78 L170.00,172.64 L170.25,172.51 L170.50,172.38 L170.75,172.25 L171.00,172.12 L171.25,171.99 L171.50,171.85 L171.75,171.72 L172.00,171.59 L172.25,171.46 L172.50,171.33 L172.75,171.20 L173.00,171.06 L173.25,170.93 L173.50,170.80 L173.75,170.67 L174.00,170.54 L174.25,170.41 L174.50,170.28 L174.75,170.14 L175.00,170.01 L175.25,169.88 L175.50,169.75 L175.75,169.62 L176.00,169.49 L176.25,169.36 L176.50,169.22 L176.75,169.09 L177.00,168.96 L177.25,168.83 L177.50,168.70 L177.75,168.57 L178.00,168.44 L178.25,168.30 L178.50,168.17 L178.75,168.04 L179.00,167.91 L179.25,167.78 L179.50,167.65 L179.75,167.52 L180.00,167.39 L180.25,167.25 L180.50,167.12 L180.75,166.99 L181.00,166.86 L181.25,166.73 L181.50,166.60 L181.75,166.47 L182.00,166.34 L182.25,166.21 L182.50,166.07 L182.75,165.94 L183.00,165.81 L183.25,165.68 L183.50,165.55 L183.75,165.42 L184.00,165.29 L184.25,165.16 L184.50,165.03 L184.75,164.89 L185.00,164.76 L185.25,164.63 L185.50,164.50 L185.75,164.37 L186.00,164.24 L186.25,164.11 L186.50,163.98 L186.75,163.85 L187.00,163.72 L187.25,163.58 L187.50,163.45 L187.75,163.32 L188.00,163.19 L188.25,163.06 L188.50,162.93 L188.75,162.80 L189.00,162.67 L189.25,162.54 L189.50,162.41 L189.75,162.28 L190.00,162.15 L190.25,162.02 L190.50,161.89 L190.75,161.75 L191.00,161.62 L191.25,161.49 L191.50,161.36 L191.75,161.23 L192.00,161.10 L192.25,160.97 L192.50,160.84 L192.75,160.71 L193.00,160.58 L193.25,160.45 L193.50,160.32 L193.75,160.19 L194.00,160.06 L194.25,159.93 L194.50,159.80 L194.75,159.67 L195.00,159.54 L195.25,159.41 L195.50,159.28 L195.75,159.15 L196.00,159.02 L196.25,158.88 L196.50,158.75 L196.75,158.62 L197.00,158.49 L197.25,158.36 L197.50,158.23 L197.75,158.10 L198.00,157.97 L198.25,157.84 L198.50,157.71 L198.75,157.58 L199.00,157.45 L199.25,157.32 L199.50,157.19 L199.75,157.06 L200.00,156.93 L200.25,156.80 L200.50,156.67 L200.75,156.55 L201.00,156.42 L201.25,156.29 L201.50,156.16 L201.75,156.03 L202.00,155.90 L202.25,155.77 L202.50,155.64 L202.75,155.51 L203.00,155.38 L203.25,155.25 L203.50,155.12 L203.75,154.99 L204.00,154.86 L204.25,154.73 L204.50,154.60 L204.75,154.47 L205.00,154.34 L205.25,154.21 L205.50,154.08 L205.75,153.96 L206.00,153.83 L206.25,153.70 L206.50,153.57 L206.75,153.44 L207.00,153.31 L207.25,153.18 L207.50,153.05 L207.75,152.92 L208.00,152.79 L208.25,152.66 L208.50,152.54 L208.75,152.41 L209.00,152.28 L209.25,152.15 L209.50,152.02 L209.75,151.89 L210.00,151.76 L210.25,151.63 L210.50,151.51 L210.75,151.38 L211.00,151.25 L211.25,151.12 L211.50,150.99 L211.75,150.86 L212.00,150.74 L212.25,150.61 L212.50,150.48 L212.75,150.35 L213.00,150.22 L213.25,150.09 L213.50,149.97 L213.75,149.84 L214.00,149.71 L214.25,149.58 L214.50,149.45 L214.75,149.33 L215.00,149.20 L215.25,149.07 L215.50,148.94 L215.75,148.82 L216.00,148.69 L216.25,148.56 L216.50,148.43 L216.75,148.31 L217.00,148.18 L217.25,148.05 L217.50,147.92 L217.75,147.80 L218.00,147.67 L218.25,147.54 L218.50,147.41 L218.75,147.29 L219.00,147.16 L219.25,147.03 L219.50,146.91 L219.75,146.78 L220.00,146.65 L220.25,146.53 L220.50,146.40 L220.75,146.27 L221.00,146.15 L221.25,146.02 L221.50,145.89 L221.75,145.77 L222.00,145.64 L222.25,145.51 L222.50,145.39 L222.75,145.26 L223.00,145.13 L223.25,145.01 L223.50,144.88 L223.75,144.76 L224.00,144.63 L224.25,144.51 L224.50,144.38 L224.75,144.25 L225.00,144.13 L225.25,144.00 L225.50,143.88 L225.75,143.75 L226.00,143.63 L226.25,143.50 L226.50,143.38 L226.75,143.25 L227.00,143.13 L227.25,143.00 L227.50,142.88 L227.75,142.75 L228.00,142.63 L228.25,142.50 L228.50,142.38 L228.75,142.25 L229.00,142.13 L229.25,142.00 L229.50,141.88 L229.75,141.75 L230.00,141.63 L230.25,141.51 L230.50,141.38 L230.75,141.26 L231.00,141.13 L231.25,141.01 L231.50,140.89 L231.75,140.76 L232.00,140.64 L232.25,140.52 L232.50,140.39 L232.75,140.27 L233.00,140.15 L233.25,140.02 L233.50,139.90 L233.75,139.78 L234.00,139.66 L234.25,139.53 L234.50,139.41 L234.75,139.29 L235.00,139.17 L235.25,139.04 L235.50,138.92 L235.75,138.80 L236.00,138.68 L236.25,138.56 L236.50,138.43 L236.75,138.31 L237.00,138.19 L237.25,138.07 L237.50,137.95 L237.75,137.83 L238.00,137.71 L238.25,137.58 L238.50,137.46 L238.75,137.34 L239.00,137.22 L239.25,137.10 L239.50,136.98 L239.75,136.86 L240.00,136.74 L240.25,136.62 L240.50,136.50 L240.75,136.38 L241.00,136.26 L241.25,136.14 L241.50,136.02 L241.75,135.90 L242.00,135.78 L242.25,135.66 L242.50,135.55 L242.75,135.43 L243.00,135.31 L243.25,135.19 L243.50,135.07 L243.75,134.95 L244.00,134.83 L244.25,134.72 L244.50,134.60 L244.75,134.48 L245.00,134.36 L245.25,134.25 L245.50,134.13 L245.75,134.01 L246.00,133.89 L246.25,133.78 L246.50,133.66 L246.75,133.54 L247.00,133.43 L247.25,133.31 L247.50,133.20 L247.75,133.08 L248.00,132.96 L248.25,132.85 L248.50,132.73 L248.75,132.62 L249.00,132.50 L249.25,132.39 L249.50,132.27 L249.75,132.16 L250.00,132.05 L250.25,131.93 L250.50,131.82 L250.75,131.70 L251.00,131.59 L251.25,131.48 L251.50,131.36 L251.75,131.25 L252.00,131.14 L252.25,131.02 L252.50,130.91 L252.75,130.80 L253.00,130.69 L253.25,130.58 L253.50,130.46 L253.75,130.35 L254.00,130.24 L254.25,130.13 L254.50,130.02 L254.75,129.91 L255.00,129.80 L255.25,129.69 L255.50,129.58 L255.75,129.47 L256.00,129.36 L256.25,129.25 L256.50,129.14 L256.75,129.03 L257.00,128.92 L257.25,128.81 L257.50,128.71 L257.75,128.60 L258.00,128.49 L258.25,128.38 L258.50,128.28 L258.75,128.17 L259.00,128.06 L259.25,127.96 L259.50,127.85 L259.75,127.74 L260.00,127.64 L260.25,127.53 L260.50,127.43 L260.75,127.32 L261.00,127.22 L261.25,127.11 L261.50,127.01 L261.75,126.91 L262.00,126.80 L262.25,126.70 L262.50,126.60 L262.75,126.49 L263.00,126.39 L263.25,126.29 L263.50,126.19 L263.75,126.09 L264.00,125.98 L264.25,125.88 L264.50,125.78 L264.75,125.68 L265.00,125.58 L265.25,125.48 L265.50,125.38 L265.75,125.28 L266.00,125.19 L266.25,125.09 L266.50,124.99 L266.75,124.89 L267.00,124.80 L267.25,124.70 L267.50,124.60 L267.75,124.51 L268.00,124.41 L268.25,124.31 L268.50,124.22 L268.75,124.12 L269.00,124.03 L269.25,123.94 L269.50,123.84 L269.75,123.75 L270.00,123.66 L270.25,123.56 L270.50,123.47 L270.75,123.38 L271.00,123.29 L271.25,123.20 L271.50,123.11 L271.75,123.02 L272.00,122.93 L272.25,122.84 L272.50,122.75 L272.75,122.66 L273.00,122.57 L273.25,122.49 L273.50,122.40 L273.75,122.31 L274.00,122.23 L274.25,122.14 L274.50,122.05 L274.75,121.97 L275.00,121.88 L275.25,121.80 L275.50,121.72 L275.75,121.63 L276.00,121.55 L276.25,121.47 L276.50,121.39 L276.75,121.31 L277.00,121.23 L277.25,121.15 L277.50,121.07 L277.75,120.99 L278.00,120.91 L278.25,120.83 L278.50,120.76 L278.75,120.68 L279.00,120.60 L279.25,120.53 L279.50,120.45 L279.75,120.38 L280.00,120.30 L280.25,120.23 L280.50,120.16 L280.75,120.08 L281.00,120.01 L281.25,119.94 L281.50,119.87 L281.75,119.80 L282.00,119.73 L282.25,119.66 L282.50,119.60 L282.75,119.53 L283.00,119.46 L283.25,119.40 L283.50,119.33 L283.75,119.27 L284.00,119.20 L284.25,119.14 L284.50,119.08 L284.75,119.01 L285.00,118.95 L285.25,118.89 L285.50,118.83 L285.75,118.77 L286.00,118.71 L286.25,118.66 L286.50,118.60 L286.75,118.54 L287.00,118.49 L287.25,118.43 L287.50,118.38 L287.75,118.32 L288.00,118.27 L288.25,118.22 L288.50,118.17 L288.75,118.12 L289.00,118.07 L289.25,118.02 L289.50,117.97 L289.75,117.93 L290.00,117.88 L290.25,117.84 L290.50,117.79 L290.75,117.75 L291.00,117.70 L291.25,117.66 L291.50,117.62 L291.75,117.58 L292.00,117.54 L292.25,117.51 L292.50,117.47 L292.75,117.43 L293.00,117.40 L293.25,117.36 L293.50,117.33 L293.75,117.30 L294.00,117.27 L294.25,117.23 L294.50,117.21 L294.75,117.18 L295.00,117.15 L295.25,117.12 L295.50,117.10 L295.75,117.07 L296.00,117.05 L296.25,117.03 L296.50,117.01 L296.75,116.99 L297.00,116.97 L297.25,116.95 L297.50,116.93 L297.75,116.92 L298.00,116.90 L298.25,116.89 L298.50,116.88 L298.75,116.87 L299.00,116.86 L299.25,116.85 L299.50,116.84 L299.75,116.84 L300.00,116.83 L300.25,116.83 L300.50,116.83 L300.75,116.83 L301.00,116.83 L301.25,116.83 L301.50,116.83 L301.75,116.84 L302.00,116.84 L302.25,116.85 L302.50,116.86 L302.75,116.87 L303.00,116.88 L303.25,116.89 L303.50,116.90 L303.75,116.92 L304.00,116.94 L304.25,116.96 L304.50,116.97 L304.75,117.00 L305.00,117.02 L305.25,117.04 L305.50,117.07 L305.75,117.10 L306.00,117.13 L306.25,117.16 L306.50,117.19 L306.75,117.22 L307.00,117.26 L307.25,117.30 L307.50,117.33 L307.75,117.37 L308.00,117.42 L308.25,117.46 L308.50,117.51 L308.75,117.55 L309.00,117.60 L309.25,117.65 L309.50,117.71 L309.75,117.76 L310.00,117.82 L310.25,117.88 L310.50,117.94 L310.75,118.00 L311.00,118.06 L311.25,118.13 L311.50,118.20 L311.75,118.27 L312.00,118.34 L312.25,118.41 L312.50,118.49 L312.75,118.56 L313.00,118.64 L313.25,118.73 L313.50,118.81 L313.75,118.90 L314.00,118.99 L314.25,119.08 L314.50,119.17 L314.75,119.26 L315.00,119.36 L315.25,119.46 L315.50,119.56 L315.75,119.67 L316.00,119.77 L316.25,119.88 L316.50,119.99 L316.75,120.10 L317.00,120.22 L317.25,120.34 L317.50,120.46 L317.75,120.58 L318.00,120.71 L318.25,120.84 L318.50,120.97 L318.75,121.10 L319.00,121.24 L319.25,121.38 L319.50,121.52 L319.75,121.66 L320.00,121.81 L320.25,121.96 L320.50,122.11 L320.75,122.26 L321.00,122.42 L321.25,122.58 L321.50,122.75 L321.75,122.91 L322.00,123.08 L322.25,123.25 L322.50,123.43 L322.75,123.61 L323.00,123.79 L323.25,123.97 L323.50,124.16 L323.75,124.35 L324.00,124.55 L324.25,124.74 L324.50,124.94 L324.75,125.15 L325.00,125.36 L325.25,125.57 L325.50,125.78 L325.75,126.00 L326.00,126.22 L326.25,126.44 L326.50,126.67 L326.75,126.90 L327.00,127.13 L327.25,127.37 L327.50,127.61 L327.75,127.86 L328.00,128.11 L328.25,128.36 L328.50,128.62 L328.75,128.88 L329.00,129.14 L329.25,129.41 L329.50,129.68 L329.75,129.96 L330.00,130.24 L330.25,130.52 L330.50,130.81 L330.75,131.11 L331.00,131.40 L331.25,131.70 L331.50,132.01 L331.75,132.32 L332.00,132.63 L332.25,132.95 L332.50,133.27 L332.75,133.60 L333.00,133.93 L333.25,134.27 L333.50,134.61 L333.75,134.95 L334.00,135.30 L334.25,135.66 L334.50,136.02 L334.75,136.38 L335.00,136.75 L335.25,137.13 L335.50,137.51 L335.75,137.89 L336.00,138.28 L336.25,138.67 L336.50,139.07 L336.75,139.48 L337.00,139.89 L337.25,140.30 L337.50,140.72 L337.75,141.15 L338.00,141.58 L338.25,142.02 L338.50,142.46 L338.75,142.91 L339.00,143.37 L339.25,143.83 L339.50,144.29 L339.75,144.76 L340.00,145.24 L340.25,145.72 L340.50,146.21 L340.75,146.71 L341.00,147.21 L341.25,147.72 L341.50,148.23 L341.75,148.76 L342.00,149.28 L342.25,149.82 L342.50,150.36 L342.75,150.90 L343.00,151.46 L343.25,152.02 L343.50,152.59 L343.75,153.16 L344.00,153.74 L344.25,154.33 L344.50,154.92 L344.75,155.52 L345.00,156.13 L345.25,156.75 L345.50,157.38 L345.75,158.01 L346.00,158.65 L346.25,159.29 L346.50,159.95 L346.75,160.61 L347.00,161.28 L347.25,161.96 L347.50,162.64 L347.75,163.33 L348.00,164.04 L348.25,164.75 L348.50,165.46 L348.75,166.19 L349.00,166.93 L349.25,167.67 L349.50,168.42 L349.75,169.18 L350.00,169.95 L350.25,170.73 L350.50,171.52 L350.75,172.31 L351.00,173.12 L351.25,173.93 L351.50,174.76 L351.75,175.59 L352.00,176.43 L352.25,177.29 L352.50,178.15 L352.75,179.02 L353.00,179.90 L353.25,180.79 L353.50,181.69 L353.75,182.61 L354.00,183.53 L354.25,184.46 L354.50,185.40 L354.75,186.36 L355.00,187.32 L355.25,188.30 L355.50,189.28 L355.75,190.28 L356.00,191.29 L356.25,192.31 L356.50,193.34 L356.75,194.38 L357.00,195.43 L357.25,196.50 L357.50,197.57 L357.75,198.66 L358.00,199.76 L358.25,200.88 L358.50,202.00 L358.75,203.14 L359.00,204.29 L359.25,205.45 L359.50,206.63 L359.75,207.81 L360.00,209.02 L360.25,210.23 L360.50,211.46 L360.75,212.70 L361.00,213.95 L361.25,215.22 L361.50,216.50 L361.75,217.80 L362.00,219.11 L362.25,220.43 L362.50,221.77 L362.75,223.12 L363.00,224.49 L363.25,225.87 L363.50,227.26 L363.75,228.68 L364.00,230.10 L364.25,231.54 L364.50,233.00 L364.75,234.47 L365.00,235.96 L365.25,237.47 L365.50,238.99 L365.75,240.53 L366.00,242.08 L366.25,243.65 L366.50,245.24 L366.75,246.84 L367.00,248.46 L367.25,250.10 L367.50,251.75 L367.75,253.43 L368.00,255.12 L368.25,256.82 L368.50,258.55 L368.75,260.30 L369.00,262.06 L369.25,263.84 L369.30,264.20" stroke="#e69f00" stroke-width="2.3"/>
<path d="M140.38,264.20 L140.50,264.06 L140.75,263.78 L141.00,263.49 L141.25,263.21 L141.50,262.92 L141.75,262.64 L142.00,262.36 L142.25,262.07 L142.50,261.79 L142.75,261.50 L143.00,261.22 L143.25,260.93 L143.50,260.65 L143.75,260.37 L144.00,260.08 L144.25,259.80 L144.50,259.51 L144.75,259.23 L145.00,258.94 L145.25,258.66 L145.50,258.38 L145.75,258.09 L146.00,257.81 L146.25,257.52 L146.50,257.24 L146.75,256.95 L147.00,256.67 L147.25,256.39 L147.50,256.10 L147.75,255.82 L148.00,255.53 L148.25,255.25 L148.50,254.96 L148.75,254.68 L149.00,254.40 L149.25,254.11 L149.50,253.83 L149.75,253.54 L150.00,253.26 L150.25,252.97 L150.50,252.69 L150.75,252.41 L151.00,252.12 L151.25,251.84 L151.50,251.55 L151.75,251.27 L152.00,250.98 L152.25,250.70 L152.50,250.42 L152.75,250.13 L153.00,249.85 L153.25,249.56 L153.50,249.28 L153.75,248.99 L154.00,248.71 L154.25,248.43 L154.50,248.14 L154.75,247.86 L155.00,247.57 L155.25,247.29 L155.50,247.00 L155.75,246.72 L156.00,246.44 L156.25,246.15 L156.50,245.87 L156.75,245.58 L157.00,245.30 L157.25,245.02 L157.50,244.73 L157.75,244.45 L158.00,244.16 L158.25,243.88 L158.50,243.59 L158.75,243.31 L159.00,243.03 L159.25,242.74 L159.50,242.46 L159.75,242.17 L160.00,241.89 L160.25,241.60 L160.50,241.32 L160.75,241.04 L161.00,240.75 L161.25,240.47 L161.50,240.18 L161.75,239.90 L162.00,239.61 L162.25,239.33 L162.50,239.05 L162.75,238.76 L163.00,238.48 L163.25,238.19 L163.50,237.91 L163.75,237.62 L164.00,237.34 L164.25,237.06 L164.50,236.77 L164.75,236.49 L165.00,236.20 L165.25,235.92 L165.50,235.63 L165.75,235.35 L166.00,235.07 L166.25,234.78 L166.50,234.50 L166.75,234.21 L167.00,233.93 L167.25,233.64 L167.50,233.36 L167.75,233.08 L168.00,232.79 L168.25,232.51 L168.50,232.22 L168.75,231.94 L169.00,231.65 L169.25,231.37 L169.50,231.09 L169.75,230.80 L170.00,230.52 L170.25,230.23 L170.50,229.95 L170.75,229.66 L171.00,229.38 L171.25,229.10 L171.50,228.81 L171.75,228.53 L172.00,228.24 L172.25,227.96 L172.50,227.67 L172.75,227.39 L173.00,227.11 L173.25,226.82 L173.50,226.54 L173.75,226.25 L174.00,225.97 L174.25,225.69 L174.50,225.40 L174.75,225.12 L175.00,224.83 L175.25,224.55 L175.50,224.26 L175.75,223.98 L176.00,223.70 L176.25,223.41 L176.50,223.13 L176.75,222.84 L177.00,222.56 L177.25,222.27 L177.50,221.99 L177.75,221.71 L178.00,221.42 L178.25,221.14 L178.50,220.85 L178.75,220.57 L179.00,220.28 L179.25,220.00 L179.50,219.72 L179.75,219.43 L180.00,219.15 L180.25,218.86 L180.50,218.58 L180.75,218.29 L181.00,218.01 L181.25,217.73 L181.50,217.44 L181.75,217.16 L182.00,216.87 L182.25,216.59 L182.50,216.30 L182.75,216.02 L183.00,215.74 L183.25,215.45 L183.50,215.17 L183.75,214.88 L184.00,214.60 L184.25,214.31 L184.50,214.03 L184.75,213.75 L185.00,213.46 L185.25,213.18 L185.50,212.89 L185.75,212.61 L186.00,212.32 L186.25,212.04 L186.50,211.76 L186.75,211.47 L187.00,211.19 L187.25,210.90 L187.50,210.62 L187.75,210.33 L188.00,210.05 L188.25,209.77 L188.50,209.48 L188.75,209.20 L189.00,208.91 L189.25,208.63 L189.50,208.35 L189.75,208.06 L190.00,207.78 L190.25,207.49 L190.50,207.21 L190.75,206.92 L191.00,206.64 L191.25,206.36 L191.50,206.07 L191.75,205.79 L192.00,205.50 L192.25,205.22 L192.50,204.93 L192.75,204.65 L193.00,204.37 L193.25,204.08 L193.50,203.80 L193.75,203.51 L194.00,203.23 L194.25,202.94 L194.50,202.66 L194.75,202.38 L195.00,202.09 L195.25,201.81 L195.50,201.52 L195.75,201.24 L196.00,200.95 L196.25,200.67 L196.50,200.39 L196.75,200.10 L197.00,199.82 L197.25,199.53 L197.50,199.25 L197.75,198.96 L198.00,198.68 L198.25,198.40 L198.50,198.11 L198.75,197.83 L199.00,197.54 L199.25,197.26 L199.50,196.97 L199.75,196.69 L200.00,196.41 L200.25,196.12 L200.50,195.84 L200.75,195.55 L201.00,195.27 L201.25,194.99 L201.50,194.70 L201.75,194.42 L202.00,194.13 L202.25,193.85 L202.50,193.56 L202.75,193.28 L203.00,193.00 L203.25,192.71 L203.50,192.43 L203.75,192.14 L204.00,191.86 L204.25,191.57 L204.50,191.29 L204.75,191.01 L205.00,190.72 L205.25,190.44 L205.50,190.15 L205.75,189.87 L206.00,189.58 L206.25,189.30 L206.50,189.02 L206.75,188.73 L207.00,188.45 L207.25,188.16 L207.50,187.88 L207.75,187.59 L208.00,187.31 L208.25,187.03 L208.50,186.74 L208.75,186.46 L209.00,186.17 L209.25,185.89 L209.50,185.60 L209.75,185.32 L210.00,185.04 L210.25,184.75 L210.50,184.47 L210.75,184.18 L211.00,183.90 L211.25,183.62 L211.50,183.33 L211.75,183.05 L212.00,182.76 L212.25,182.48 L212.50,182.19 L212.75,181.91 L213.00,181.63 L213.25,181.34 L213.50,181.06 L213.75,180.77 L214.00,180.49 L214.25,180.20 L214.50,179.92 L214.75,179.64 L215.00,179.35 L215.25,179.07 L215.50,178.78 L215.75,178.50 L216.00,178.21 L216.25,177.93 L216.50,177.65 L216.75,177.36 L217.00,177.08 L217.25,176.79 L217.50,176.51 L217.75,176.22 L218.00,175.94 L218.25,175.66 L218.50,175.37 L218.75,175.09 L219.00,174.80 L219.25,174.52 L219.50,174.24 L219.75,173.95 L220.00,173.67 L220.25,173.38 L220.50,173.10 L220.75,172.81 L221.00,172.53 L221.25,172.25 L221.50,171.96 L221.75,171.68 L222.00,171.39 L222.25,171.11 L222.50,170.82 L222.75,170.54 L223.00,170.26 L223.25,169.97 L223.50,169.69 L223.75,169.40 L224.00,169.12 L224.25,168.84 L224.50,168.55 L224.75,168.27 L225.00,167.98 L225.25,167.70 L225.50,167.41 L225.75,167.13 L226.00,166.85 L226.25,166.56 L226.50,166.28 L226.75,165.99 L227.00,165.71 L227.25,165.42 L227.50,165.14 L227.75,164.86 L228.00,164.57 L228.25,164.29 L228.50,164.00 L228.75,163.72 L229.00,163.44 L229.25,163.15 L229.50,162.87 L229.75,162.58 L230.00,162.30 L230.25,162.01 L230.50,161.73 L230.75,161.45 L231.00,161.16 L231.25,160.88 L231.50,160.59 L231.75,160.31 L232.00,160.03 L232.25,159.74 L232.50,159.46 L232.75,159.17 L233.00,158.89 L233.25,158.60 L233.50,158.32 L233.75,158.04 L234.00,157.75 L234.25,157.47 L234.50,157.18 L234.75,156.90 L235.00,156.62 L235.25,156.33 L235.50,156.05 L235.75,155.76 L236.00,155.48 L236.25,155.20 L236.50,154.91 L236.75,154.63 L237.00,154.34 L237.25,154.06 L237.50,153.77 L237.75,153.49 L238.00,153.21 L238.25,152.92 L238.50,152.64 L238.75,152.35 L239.00,152.07 L239.25,151.79 L239.50,151.50 L239.75,151.22 L240.00,150.93 L240.25,150.65 L240.50,150.37 L240.75,150.08 L241.00,149.80 L241.25,149.51 L241.50,149.23 L241.75,148.95 L242.00,148.66 L242.25,148.38 L242.50,148.09 L242.75,147.81 L243.00,147.53 L243.25,147.24 L243.50,146.96 L243.75,146.67 L244.00,146.39 L244.25,146.11 L244.50,145.82 L244.75,145.54 L245.00,145.25 L245.25,144.97 L245.50,144.69 L245.75,144.40 L246.00,144.12 L246.25,143.83 L246.50,143.55 L246.75,143.27 L247.00,142.98 L247.25,142.70 L247.50,142.41 L247.75,142.13 L248.00,141.85 L248.25,141.56 L248.50,141.28 L248.75,140.99 L249.00,140.71 L249.25,140.43 L249.50,140.14 L249.75,139.86 L250.00,139.57 L250.25,139.29 L250.50,139.01 L250.75,138.72 L251.00,138.44 L251.25,138.16 L251.50,137.87 L251.75,137.59 L252.00,137.30 L252.25,137.02 L252.50,136.74 L252.75,136.45 L253.00,136.17 L253.25,135.89 L253.50,135.60 L253.75,135.32 L254.00,135.03 L254.25,134.75 L254.50,134.47 L254.75,134.18 L255.00,133.90 L255.25,133.62 L255.50,133.33 L255.75,133.05 L256.00,132.77 L256.25,132.48 L256.50,132.20 L256.75,131.91 L257.00,131.63 L257.25,131.35 L257.50,131.06 L257.75,130.78 L258.00,130.50 L258.25,130.21 L258.50,129.93 L258.75,129.65 L259.00,129.36 L259.25,129.08 L259.50,128.80 L259.75,128.51 L260.00,128.23 L260.25,127.95 L260.50,127.66 L260.75,127.38 L261.00,127.10 L261.25,126.81 L261.50,126.53 L261.75,126.25 L262.00,125.96 L262.25,125.68 L262.50,125.40 L262.75,125.11 L263.00,124.83 L263.25,124.55 L263.50,124.26 L263.75,123.98 L264.00,123.70 L264.25,123.41 L264.50,123.13 L264.75,122.85 L265.00,122.56 L265.25,122.28 L265.50,122.00 L265.75,121.72 L266.00,121.43 L266.25,121.15 L266.50,120.87 L266.75,120.58 L267.00,120.30 L267.25,120.02 L267.50,119.74 L267.75,119.45 L268.00,119.17 L268.25,118.89 L268.50,118.61 L268.75,118.32 L269.00,118.04 L269.25,117.76 L269.50,117.48 L269.75,117.19 L270.00,116.91 L270.25,116.63 L270.50,116.35 L270.75,116.06 L271.00,115.78 L271.25,115.50 L271.50,115.22 L271.75,114.93 L272.00,114.65 L272.25,114.37 L272.50,114.09 L272.75,113.81 L273.00,113.52 L273.25,113.24 L273.50,112.96 L273.75,112.68 L274.00,112.40 L274.25,112.11 L274.50,111.83 L274.75,111.55 L275.00,111.27 L275.25,110.99 L275.50,110.71 L275.75,110.43 L276.00,110.14 L276.25,109.86 L276.50,109.58 L276.75,109.30 L277.00,109.02 L277.25,108.74 L277.50,108.46 L277.75,108.18 L278.00,107.89 L278.25,107.61 L278.50,107.33 L278.75,107.05 L279.00,106.77 L279.25,106.49 L279.50,106.21 L279.75,105.93 L280.00,105.65 L280.25,105.37 L280.50,105.09 L280.75,104.81 L281.00,104.53 L281.25,104.25 L281.50,103.97 L281.75,103.69 L282.00,103.41 L282.25,103.13 L282.50,102.85 L282.75,102.57 L283.00,102.29 L283.25,102.01 L283.50,101.73 L283.75,101.45 L284.00,101.17 L284.25,100.90 L284.50,100.62 L284.75,100.34 L285.00,100.06 L285.25,99.78 L285.50,99.50 L285.75,99.22 L286.00,98.95 L286.25,98.67 L286.50,98.39 L286.75,98.11 L287.00,97.83 L287.25,97.56 L287.50,97.28 L287.75,97.00 L288.00,96.72 L288.25,96.45 L288.50,96.17 L288.75,95.89 L289.00,95.62 L289.25,95.34 L289.50,95.06 L289.75,94.79 L290.00,94.51 L290.25,94.24 L290.50,93.96 L290.75,93.68 L291.00,93.41 L291.25,93.13 L291.50,92.86 L291.75,92.58 L292.00,92.31 L292.25,92.03 L292.50,91.76 L292.75,91.49 L293.00,91.21 L293.25,90.94 L293.50,90.67 L293.75,90.39 L294.00,90.12 L294.25,89.85 L294.50,89.57 L294.75,89.30 L295.00,89.03 L295.25,88.76 L295.50,88.48 L295.75,88.21 L296.00,87.94 L296.25,87.67 L296.50,87.40 L296.75,87.13 L297.00,86.86 L297.25,86.59 L297.50,86.32 L297.75,86.05 L298.00,85.78 L298.25,85.51 L298.50,85.24 L298.75,84.97 L299.00,84.70 L299.25,84.44 L299.50,84.17 L299.75,83.90 L300.00,83.63 L300.25,83.37 L300.50,83.10 L300.75,82.84 L301.00,82.57 L301.25,82.30 L301.50,82.04 L301.75,81.78 L302.00,81.51 L302.25,81.25 L302.50,80.98 L302.75,80.72 L303.00,80.46 L303.25,80.20 L303.50,79.94 L303.75,79.67 L304.00,79.41 L304.25,79.15 L304.50,78.89 L304.75,78.63 L305.00,78.37 L305.25,78.12 L305.50,77.86 L305.75,77.60 L306.00,77.34 L306.25,77.09 L306.50,76.83 L306.75,76.57 L307.00,76.32 L307.25,76.07 L307.50,75.81 L307.75,75.56 L308.00,75.31 L308.25,75.05 L308.50,74.80 L308.75,74.55 L309.00,74.30 L309.25,74.05 L309.50,73.80 L309.75,73.55 L310.00,73.31 L310.25,73.06 L310.50,72.81 L310.75,72.57 L311.00,72.32 L311.25,72.08 L311.50,71.84 L311.75,71.59 L312.00,71.35 L312.25,71.11 L312.50,70.87 L312.75,70.63 L313.00,70.39 L313.25,70.16 L313.50,69.92 L313.75,69.68 L314.00,69.45 L314.25,69.22 L314.50,68.98 L314.75,68.75 L315.00,68.52 L315.25,68.29 L315.50,68.06 L315.75,67.83 L316.00,67.61 L316.25,67.38 L316.50,67.16 L316.75,66.93 L317.00,66.71 L317.25,66.49 L317.50,66.27 L317.75,66.05 L318.00,65.83 L318.25,65.62 L318.50,65.40 L318.75,65.19 L319.00,64.98 L319.25,64.77 L319.50,64.56 L319.75,64.35 L320.00,64.14 L320.25,63.94 L320.50,63.73 L320.75,63.53 L321.00,63.33 L321.25,63.13 L321.50,62.94 L321.75,62.74 L322.00,62.55 L322.25,62.35 L322.50,62.16 L322.75,61.97 L323.00,61.79 L323.25,61.60 L323.50,61.42 L323.75,61.24 L324.00,61.06 L324.25,60.88 L324.50,60.70 L324.75,60.53 L325.00,60.36 L325.25,60.19 L325.50,60.02 L325.75,59.86 L326.00,59.70 L326.25,59.54 L326.50,59.38 L326.75,59.22 L327.00,59.07 L327.25,58.92 L327.50,58.77 L327.75,58.63 L328.00,58.48 L328.25,58.34 L328.50,58.21 L328.75,58.07 L329.00,57.94 L329.25,57.81 L329.50,57.68 L329.75,57.56 L330.00,57.44 L330.25,57.32 L330.50,57.21 L330.75,57.10 L331.00,56.99 L331.25,56.89 L331.50,56.79 L331.75,56.69 L332.00,56.60 L332.25,56.51 L332.50,56.42 L332.75,56.34 L333.00,56.26 L333.25,56.19 L333.50,56.12 L333.75,56.05 L334.00,55.99 L334.25,55.93 L334.50,55.88 L334.75,55.83 L335.00,55.78 L335.25,55.74 L335.50,55.70 L335.75,55.67 L336.00,55.65 L336.25,55.62 L336.50,55.61 L336.75,55.60 L337.00,55.59 L337.25,55.59 L337.50,55.59 L337.75,55.60 L338.00,55.62 L338.25,55.64 L338.50,55.66 L338.75,55.70 L339.00,55.74 L339.25,55.78 L339.50,55.83 L339.75,55.89 L340.00,55.95 L340.25,56.02 L340.50,56.10 L340.75,56.18 L341.00,56.27 L341.25,56.37 L341.50,56.47 L341.75,56.59 L342.00,56.71 L342.25,56.83 L342.50,56.97 L342.75,57.11 L343.00,57.26 L343.25,57.42 L343.50,57.59 L343.75,57.77 L344.00,57.95 L344.25,58.15 L344.50,58.35 L344.75,58.56 L345.00,58.78 L345.25,59.01 L345.50,59.25 L345.75,59.51 L346.00,59.77 L346.25,60.04 L346.50,60.32 L346.75,60.61 L347.00,60.92 L347.25,61.23 L347.50,61.56 L347.75,61.89 L348.00,62.24 L348.25,62.60 L348.50,62.98 L348.75,63.36 L349.00,63.76 L349.25,64.17 L349.50,64.60 L349.75,65.03 L350.00,65.49 L350.25,65.95 L350.50,66.43 L350.75,66.93 L351.00,67.43 L351.25,67.96 L351.50,68.50 L351.75,69.05 L352.00,69.62 L352.25,70.21 L352.50,70.81 L352.75,71.43 L353.00,72.07 L353.25,72.72 L353.50,73.40 L353.75,74.09 L354.00,74.80 L354.25,75.52 L354.50,76.27 L354.75,77.04 L355.00,77.82 L355.25,78.63 L355.50,79.45 L355.75,80.30 L356.00,81.17 L356.25,82.06 L356.50,82.98 L356.75,83.91 L357.00,84.87 L357.25,85.86 L357.50,86.86 L357.75,87.89 L358.00,88.95 L358.25,90.03 L358.50,91.14 L358.75,92.27 L359.00,93.43 L359.25,94.62 L359.50,95.83 L359.75,97.08 L360.00,98.35 L360.25,99.65 L360.50,100.98 L360.75,102.35 L361.00,103.74 L361.25,105.17 L361.50,106.63 L361.75,108.12 L362.00,109.64 L362.25,111.20 L362.50,112.79 L362.75,114.42 L363.00,116.09 L363.25,117.79 L363.50,119.53 L363.75,121.31 L364.00,123.12 L364.25,124.98 L364.50,126.88 L364.75,128.82 L365.00,130.80 L365.25,132.82 L365.50,134.89 L365.75,137.00 L366.00,139.16 L366.25,141.36 L366.50,143.61 L366.75,145.91 L367.00,148.25 L367.25,150.65 L367.50,153.10 L367.75,155.60 L368.00,158.15 L368.25,160.75 L368.50,163.41 L368.75,166.13 L369.00,168.90 L369.25,171.73 L369.50,174.62 L369.75,177.57 L370.00,180.58 L370.25,183.65 L370.50,186.79 L370.75,189.99 L371.00,193.26 L371.25,196.59 L371.50,199.99 L371.75,203.47 L372.00,207.01 L372.25,210.62 L372.50,214.31 L372.75,218.08 L373.00,221.92 L373.25,225.84 L373.50,229.84 L373.75,233.91 L374.00,238.08 L374.25,242.32 L374.50,246.65 L374.75,251.07 L375.00,255.58 L375.25,260.18 L375.46,264.20" stroke="#e69f00" stroke-width="2.5" stroke-dasharray="0.7 3.3" stroke-linecap="round"/>
<path d="M81.78,264.20 L82.00,264.08 L82.25,263.95 L82.50,263.82 L82.75,263.69 L83.00,263.55 L83.25,263.42 L83.50,263.29 L83.75,263.16 L84.00,263.02 L84.25,262.89 L84.50,262.76 L84.75,262.63 L85.00,262.49 L85.25,262.36 L85.50,262.23 L85.75,262.10 L86.00,261.96 L86.25,261.83 L86.50,261.70 L86.75,261.57 L87.00,261.43 L87.25,261.30 L87.50,261.17 L87.75,261.04 L88.00,260.91 L88.25,260.77 L88.50,260.64 L88.75,260.51 L89.00,260.38 L89.25,260.24 L89.50,260.11 L89.75,259.98 L90.00,259.85 L90.25,259.71 L90.50,259.58 L90.75,259.45 L91.00,259.32 L91.25,259.18 L91.50,259.05 L91.75,258.92 L92.00,258.79 L92.25,258.65 L92.50,258.52 L92.75,258.39 L93.00,258.26 L93.25,258.12 L93.50,257.99 L93.75,257.86 L94.00,257.73 L94.25,257.59 L94.50,257.46 L94.75,257.33 L95.00,257.20 L95.25,257.07 L95.50,256.93 L95.75,256.80 L96.00,256.67 L96.25,256.54 L96.50,256.40 L96.75,256.27 L97.00,256.14 L97.25,256.01 L97.50,255.87 L97.75,255.74 L98.00,255.61 L98.25,255.48 L98.50,255.34 L98.75,255.21 L99.00,255.08 L99.25,254.95 L99.50,254.81 L99.75,254.68 L100.00,254.55 L100.25,254.42 L100.50,254.28 L100.75,254.15 L101.00,254.02 L101.25,253.89 L101.50,253.75 L101.75,253.62 L102.00,253.49 L102.25,253.36 L102.50,253.23 L102.75,253.09 L103.00,252.96 L103.25,252.83 L103.50,252.70 L103.75,252.56 L104.00,252.43 L104.25,252.30 L104.50,252.17 L104.75,252.03 L105.00,251.90 L105.25,251.77 L105.50,251.64 L105.75,251.50 L106.00,251.37 L106.25,251.24 L106.50,251.11 L106.75,250.97 L107.00,250.84 L107.25,250.71 L107.50,250.58 L107.75,250.44 L108.00,250.31 L108.25,250.18 L108.50,250.05 L108.75,249.91 L109.00,249.78 L109.25,249.65 L109.50,249.52 L109.75,249.39 L110.00,249.25 L110.25,249.12 L110.50,248.99 L110.75,248.86 L111.00,248.72 L111.25,248.59 L111.50,248.46 L111.75,248.33 L112.00,248.19 L112.25,248.06 L112.50,247.93 L112.75,247.80 L113.00,247.66 L113.25,247.53 L113.50,247.40 L113.75,247.27 L114.00,247.13 L114.25,247.00 L114.50,246.87 L114.75,246.74 L115.00,246.61 L115.25,246.47 L115.50,246.34 L115.75,246.21 L116.00,246.08 L116.25,245.94 L116.50,245.81 L116.75,245.68 L117.00,245.55 L117.25,245.41 L117.50,245.28 L117.75,245.15 L118.00,245.02 L118.25,244.88 L118.50,244.75 L118.75,244.62 L119.00,244.49 L119.25,244.35 L119.50,244.22 L119.75,244.09 L120.00,243.96 L120.25,243.82 L120.50,243.69 L120.75,243.56 L121.00,243.43 L121.25,243.30 L121.50,243.16 L121.75,243.03 L122.00,242.90 L122.25,242.77 L122.50,242.63 L122.75,242.50 L123.00,242.37 L123.25,242.24 L123.50,242.10 L123.75,241.97 L124.00,241.84 L124.25,241.71 L124.50,241.57 L124.75,241.44 L125.00,241.31 L125.25,241.18 L125.50,241.04 L125.75,240.91 L126.00,240.78 L126.25,240.65 L126.50,240.52 L126.75,240.38 L127.00,240.25 L127.25,240.12 L127.50,239.99 L127.75,239.85 L128.00,239.72 L128.25,239.59 L128.50,239.46 L128.75,239.32 L129.00,239.19 L129.25,239.06 L129.50,238.93 L129.75,238.79 L130.00,238.66 L130.25,238.53 L130.50,238.40 L130.75,238.26 L131.00,238.13 L131.25,238.00 L131.50,237.87 L131.75,237.74 L132.00,237.60 L132.25,237.47 L132.50,237.34 L132.75,237.21 L133.00,237.07 L133.25,236.94 L133.50,236.81 L133.75,236.68 L134.00,236.54 L134.25,236.41 L134.50,236.28 L134.75,236.15 L135.00,236.01 L135.25,235.88 L135.50,235.75 L135.75,235.62 L136.00,235.49 L136.25,235.35 L136.50,235.22 L136.75,235.09 L137.00,234.96 L137.25,234.82 L137.50,234.69 L137.75,234.56 L138.00,234.43 L138.25,234.29 L138.50,234.16 L138.75,234.03 L139.00,233.90 L139.25,233.76 L139.50,233.63 L139.75,233.50 L140.00,233.37 L140.25,233.24 L140.50,233.10 L140.75,232.97 L141.00,232.84 L141.25,232.71 L141.50,232.57 L141.75,232.44 L142.00,232.31 L142.25,232.18 L142.50,232.04 L142.75,231.91 L143.00,231.78 L143.25,231.65 L143.50,231.52 L143.75,231.38 L144.00,231.25 L144.25,231.12 L144.50,230.99 L144.75,230.85 L145.00,230.72 L145.25,230.59 L145.50,230.46 L145.75,230.32 L146.00,230.19 L146.25,230.06 L146.50,229.93 L146.75,229.79 L147.00,229.66 L147.25,229.53 L147.50,229.40 L147.75,229.27 L148.00,229.13 L148.25,229.00 L148.50,228.87 L148.75,228.74 L149.00,228.60 L149.25,228.47 L149.50,228.34 L149.75,228.21 L150.00,228.07 L150.25,227.94 L150.50,227.81 L150.75,227.68 L151.00,227.55 L151.25,227.41 L151.50,227.28 L151.75,227.15 L152.00,227.02 L152.25,226.88 L152.50,226.75 L152.75,226.62 L153.00,226.49 L153.25,226.36 L153.50,226.22 L153.75,226.09 L154.00,225.96 L154.25,225.83 L154.50,225.69 L154.75,225.56 L155.00,225.43 L155.25,225.30 L155.50,225.16 L155.75,225.03 L156.00,224.90 L156.25,224.77 L156.50,224.64 L156.75,224.50 L157.00,224.37 L157.25,224.24 L157.50,224.11 L157.75,223.97 L158.00,223.84 L158.25,223.71 L158.50,223.58 L158.75,223.45 L159.00,223.31 L159.25,223.18 L159.50,223.05 L159.75,222.92 L160.00,222.78 L160.25,222.65 L160.50,222.52 L160.75,222.39 L161.00,222.26 L161.25,222.12 L161.50,221.99 L161.75,221.86 L162.00,221.73 L162.25,221.59 L162.50,221.46 L162.75,221.33 L163.00,221.20 L163.25,221.07 L163.50,220.93 L163.75,220.80 L164.00,220.67 L164.25,220.54 L164.50,220.40 L164.75,220.27 L165.00,220.14 L165.25,220.01 L165.50,219.88 L165.75,219.74 L166.00,219.61 L166.25,219.48 L166.50,219.35 L166.75,219.21 L167.00,219.08 L167.25,218.95 L167.50,218.82 L167.75,218.69 L168.00,218.55 L168.25,218.42 L168.50,218.29 L168.75,218.16 L169.00,218.02 L169.25,217.89 L169.50,217.76 L169.75,217.63 L170.00,217.50 L170.25,217.36 L170.50,217.23 L170.75,217.10 L171.00,216.97 L171.25,216.84 L171.50,216.70 L171.75,216.57 L172.00,216.44 L172.25,216.31 L172.50,216.17 L172.75,216.04 L173.00,215.91 L173.25,215.78 L173.50,215.65 L173.75,215.51 L174.00,215.38 L174.25,215.25 L174.50,215.12 L174.75,214.99 L175.00,214.85 L175.25,214.72 L175.50,214.59 L175.75,214.46 L176.00,214.33 L176.25,214.19 L176.50,214.06 L176.75,213.93 L177.00,213.80 L177.25,213.67 L177.50,213.53 L177.75,213.40 L178.00,213.27 L178.25,213.14 L178.50,213.00 L178.75,212.87 L179.00,212.74 L179.25,212.61 L179.50,212.48 L179.75,212.34 L180.00,212.21 L180.25,212.08 L180.50,211.95 L180.75,211.82 L181.00,211.68 L181.25,211.55 L181.50,211.42 L181.75,211.29 L182.00,211.16 L182.25,211.02 L182.50,210.89 L182.75,210.76 L183.00,210.63 L183.25,210.50 L183.50,210.36 L183.75,210.23 L184.00,210.10 L184.25,209.97 L184.50,209.84 L184.75,209.71 L185.00,209.57 L185.25,209.44 L185.50,209.31 L185.75,209.18 L186.00,209.05 L186.25,208.91 L186.50,208.78 L186.75,208.65 L187.00,208.52 L187.25,208.39 L187.50,208.25 L187.75,208.12 L188.00,207.99 L188.25,207.86 L188.50,207.73 L188.75,207.59 L189.00,207.46 L189.25,207.33 L189.50,207.20 L189.75,207.07 L190.00,206.94 L190.25,206.80 L190.50,206.67 L190.75,206.54 L191.00,206.41 L191.25,206.28 L191.50,206.14 L191.75,206.01 L192.00,205.88 L192.25,205.75 L192.50,205.62 L192.75,205.49 L193.00,205.35 L193.25,205.22 L193.50,205.09 L193.75,204.96 L194.00,204.83 L194.25,204.70 L194.50,204.56 L194.75,204.43 L195.00,204.30 L195.25,204.17 L195.50,204.04 L195.75,203.91 L196.00,203.77 L196.25,203.64 L196.50,203.51 L196.75,203.38 L197.00,203.25 L197.25,203.12 L197.50,202.98 L197.75,202.85 L198.00,202.72 L198.25,202.59 L198.50,202.46 L198.75,202.33 L199.00,202.19 L199.25,202.06 L199.50,201.93 L199.75,201.80 L200.00,201.67 L200.25,201.54 L200.50,201.41 L200.75,201.27 L201.00,201.14 L201.25,201.01 L201.50,200.88 L201.75,200.75 L202.00,200.62 L202.25,200.49 L202.50,200.35 L202.75,200.22 L203.00,200.09 L203.25,199.96 L203.50,199.83 L203.75,199.70 L204.00,199.57 L204.25,199.43 L204.50,199.30 L204.75,199.17 L205.00,199.04 L205.25,198.91 L205.50,198.78 L205.75,198.65 L206.00,198.51 L206.25,198.38 L206.50,198.25 L206.75,198.12 L207.00,197.99 L207.25,197.86 L207.50,197.73 L207.75,197.60 L208.00,197.46 L208.25,197.33 L208.50,197.20 L208.75,197.07 L209.00,196.94 L209.25,196.81 L209.50,196.68 L209.75,196.55 L210.00,196.42 L210.25,196.28 L210.50,196.15 L210.75,196.02 L211.00,195.89 L211.25,195.76 L211.50,195.63 L211.75,195.50 L212.00,195.37 L212.25,195.24 L212.50,195.11 L212.75,194.97 L213.00,194.84 L213.25,194.71 L213.50,194.58 L213.75,194.45 L214.00,194.32 L214.25,194.19 L214.50,194.06 L214.75,193.93 L215.00,193.80 L215.25,193.67 L215.50,193.53 L215.75,193.40 L216.00,193.27 L216.25,193.14 L216.50,193.01 L216.75,192.88 L217.00,192.75 L217.25,192.62 L217.50,192.49 L217.75,192.36 L218.00,192.23 L218.25,192.10 L218.50,191.97 L218.75,191.84 L219.00,191.71 L219.25,191.58 L219.50,191.44 L219.75,191.31 L220.00,191.18 L220.25,191.05 L220.50,190.92 L220.75,190.79 L221.00,190.66 L221.25,190.53 L221.50,190.40 L221.75,190.27 L222.00,190.14 L222.25,190.01 L222.50,189.88 L222.75,189.75 L223.00,189.62 L223.25,189.49 L223.50,189.36 L223.75,189.23 L224.00,189.10 L224.25,188.97 L224.50,188.84 L224.75,188.71 L225.00,188.58 L225.25,188.45 L225.50,188.32 L225.75,188.19 L226.00,188.06 L226.25,187.93 L226.50,187.80 L226.75,187.67 L227.00,187.54 L227.25,187.41 L227.50,187.28 L227.75,187.15 L228.00,187.02 L228.25,186.89 L228.50,186.76 L228.75,186.63 L229.00,186.50 L229.25,186.37 L229.50,186.24 L229.75,186.11 L230.00,185.98 L230.25,185.85 L230.50,185.72 L230.75,185.59 L231.00,185.47 L231.25,185.34 L231.50,185.21 L231.75,185.08 L232.00,184.95 L232.25,184.82 L232.50,184.69 L232.75,184.56 L233.00,184.43 L233.25,184.30 L233.50,184.17 L233.75,184.04 L234.00,183.91 L234.25,183.79 L234.50,183.66 L234.75,183.53 L235.00,183.40 L235.25,183.27 L235.50,183.14 L235.75,183.01 L236.00,182.88 L236.25,182.75 L236.50,182.63 L236.75,182.50 L237.00,182.37 L237.25,182.24 L237.50,182.11 L237.75,181.98 L238.00,181.85 L238.25,181.73 L238.50,181.60 L238.75,181.47 L239.00,181.34 L239.25,181.21 L239.50,181.08 L239.75,180.96 L240.00,180.83 L240.25,180.70 L240.50,180.57 L240.75,180.44 L241.00,180.32 L241.25,180.19 L241.50,180.06 L241.75,179.93 L242.00,179.81 L242.25,179.68 L242.50,179.55 L242.75,179.42 L243.00,179.29 L243.25,179.17 L243.50,179.04 L243.75,178.91 L244.00,178.78 L244.25,178.66 L244.50,178.53 L244.75,178.40 L245.00,178.28 L245.25,178.15 L245.50,178.02 L245.75,177.89 L246.00,177.77 L246.25,177.64 L246.50,177.51 L246.75,177.39 L247.00,177.26 L247.25,177.13 L247.50,177.01 L247.75,176.88 L248.00,176.75 L248.25,176.63 L248.50,176.50 L248.75,176.37 L249.00,176.25 L249.25,176.12 L249.50,175.99 L249.75,175.87 L250.00,175.74 L250.25,175.62 L250.50,175.49 L250.75,175.36 L251.00,175.24 L251.25,175.11 L251.50,174.99 L251.75,174.86 L252.00,174.74 L252.25,174.61 L252.50,174.49 L252.75,174.36 L253.00,174.23 L253.25,174.11 L253.50,173.98 L253.75,173.86 L254.00,173.73 L254.25,173.61 L254.50,173.48 L254.75,173.36 L255.00,173.23 L255.25,173.11 L255.50,172.99 L255.75,172.86 L256.00,172.74 L256.25,172.61 L256.50,172.49 L256.75,172.36 L257.00,172.24 L257.25,172.12 L257.50,171.99 L257.75,171.87 L258.00,171.74 L258.25,171.62 L258.50,171.50 L258.75,171.37 L259.00,171.25 L259.25,171.13 L259.50,171.00 L259.75,170.88 L260.00,170.76 L260.25,170.63 L260.50,170.51 L260.75,170.39 L261.00,170.27 L261.25,170.14 L261.50,170.02 L261.75,169.90 L262.00,169.78 L262.25,169.65 L262.50,169.53 L262.75,169.41 L263.00,169.29 L263.25,169.17 L263.50,169.04 L263.75,168.92 L264.00,168.80 L264.25,168.68 L264.50,168.56 L264.75,168.44 L265.00,168.32 L265.25,168.20 L265.50,168.07 L265.75,167.95 L266.00,167.83 L266.25,167.71 L266.50,167.59 L266.75,167.47 L267.00,167.35 L267.25,167.23 L267.50,167.11 L267.75,166.99 L268.00,166.87 L268.25,166.75 L268.50,166.63 L268.75,166.52 L269.00,166.40 L269.25,166.28 L269.50,166.16 L269.75,166.04 L270.00,165.92 L270.25,165.80 L270.50,165.68 L270.75,165.57 L271.00,165.45 L271.25,165.33 L271.50,165.21 L271.75,165.09 L272.00,164.98 L272.25,164.86 L272.50,164.74 L272.75,164.63 L273.00,164.51 L273.25,164.39 L273.50,164.28 L273.75,164.16 L274.00,164.04 L274.25,163.93 L274.50,163.81 L274.75,163.70 L275.00,163.58 L275.25,163.46 L275.50,163.35 L275.75,163.23 L276.00,163.12 L276.25,163.00 L276.50,162.89 L276.75,162.78 L277.00,162.66 L277.25,162.55 L277.50,162.43 L277.75,162.32 L278.00,162.21 L278.25,162.09 L278.50,161.98 L278.75,161.87 L279.00,161.75 L279.25,161.64 L279.50,161.53 L279.75,161.42 L280.00,161.31 L280.25,161.19 L280.50,161.08 L280.75,160.97 L281.00,160.86 L281.25,160.75 L281.50,160.64 L281.75,160.53 L282.00,160.42 L282.25,160.31 L282.50,160.20 L282.75,160.09 L283.00,159.98 L283.25,159.87 L283.50,159.76 L283.75,159.65 L284.00,159.54 L284.25,159.43 L284.50,159.33 L284.75,159.22 L285.00,159.11 L285.25,159.00 L285.50,158.90 L285.75,158.79 L286.00,158.68 L286.25,158.58 L286.50,158.47 L286.75,158.37 L287.00,158.26 L287.25,158.15 L287.50,158.05 L287.75,157.95 L288.00,157.84 L288.25,157.74 L288.50,157.63 L288.75,157.53 L289.00,157.43 L289.25,157.32 L289.50,157.22 L289.75,157.12 L290.00,157.02 L290.25,156.91 L290.50,156.81 L290.75,156.71 L291.00,156.61 L291.25,156.51 L291.50,156.41 L291.75,156.31 L292.00,156.21 L292.25,156.11 L292.50,156.01 L292.75,155.91 L293.00,155.81 L293.25,155.72 L293.50,155.62 L293.75,155.52 L294.00,155.42 L294.25,155.33 L294.50,155.23 L294.75,155.13 L295.00,155.04 L295.25,154.94 L295.50,154.85 L295.75,154.75 L296.00,154.66 L296.25,154.57 L296.50,154.47 L296.75,154.38 L297.00,154.29 L297.25,154.19 L297.50,154.10 L297.75,154.01 L298.00,153.92 L298.25,153.83 L298.50,153.74 L298.75,153.65 L299.00,153.56 L299.25,153.47 L299.50,153.38 L299.75,153.30 L300.00,153.21 L300.25,153.12 L300.50,153.03 L300.75,152.95 L301.00,152.86 L301.25,152.78 L301.50,152.69 L301.75,152.61 L302.00,152.52 L302.25,152.44 L302.50,152.36 L302.75,152.27 L303.00,152.19 L303.25,152.11 L303.50,152.03 L303.75,151.95 L304.00,151.87 L304.25,151.79 L304.50,151.71 L304.75,151.63 L305.00,151.55 L305.25,151.47 L305.50,151.40 L305.75,151.32 L306.00,151.25 L306.25,151.17 L306.50,151.10 L306.75,151.02 L307.00,150.95 L307.25,150.87 L307.50,150.80 L307.75,150.73 L308.00,150.66 L308.25,150.59 L308.50,150.52 L308.75,150.45 L309.00,150.38 L309.25,150.31 L309.50,150.24 L309.75,150.18 L310.00,150.11 L310.25,150.05 L310.50,149.98 L310.75,149.92 L311.00,149.85 L311.25,149.79 L311.50,149.73 L311.75,149.67 L312.00,149.61 L312.25,149.55 L312.50,149.49 L312.75,149.43 L313.00,149.37 L313.25,149.31 L313.50,149.26 L313.75,149.20 L314.00,149.14 L314.25,149.09 L314.50,149.04 L314.75,148.98 L315.00,148.93 L315.25,148.88 L315.50,148.83 L315.75,148.78 L316.00,148.73 L316.25,148.68 L316.50,148.64 L316.75,148.59 L317.00,148.55 L317.25,148.50 L317.50,148.46 L317.75,148.41 L318.00,148.37 L318.25,148.33 L318.50,148.29 L318.75,148.25 L319.00,148.21 L319.25,148.18 L319.50,148.14 L319.75,148.10 L320.00,148.07 L320.25,148.04 L320.50,148.00 L320.75,147.97 L321.00,147.94 L321.25,147.91 L321.50,147.88 L321.75,147.85 L322.00,147.83 L322.25,147.80 L322.50,147.78 L322.75,147.75 L323.00,147.73 L323.25,147.71 L323.50,147.69 L323.75,147.67 L324.00,147.65 L324.25,147.64 L324.50,147.62 L324.75,147.61 L325.00,147.59 L325.25,147.58 L325.50,147.57 L325.75,147.56 L326.00,147.55 L326.25,147.54 L326.50,147.54 L326.75,147.53 L327.00,147.53 L327.25,147.52 L327.50,147.52 L327.75,147.52 L328.00,147.52 L328.25,147.53 L328.50,147.53 L328.75,147.54 L329.00,147.54 L329.25,147.55 L329.50,147.56 L329.75,147.57 L330.00,147.58 L330.25,147.60 L330.50,147.61 L330.75,147.63 L331.00,147.65 L331.25,147.67 L331.50,147.69 L331.75,147.71 L332.00,147.73 L332.25,147.76 L332.50,147.79 L332.75,147.81 L333.00,147.84 L333.25,147.88 L333.50,147.91 L333.75,147.95 L334.00,147.98 L334.25,148.02 L334.50,148.06 L334.75,148.10 L335.00,148.15 L335.25,148.19 L335.50,148.24 L335.75,148.29 L336.00,148.34 L336.25,148.39 L336.50,148.44 L336.75,148.50 L337.00,148.56 L337.25,148.62 L337.50,148.68 L337.75,148.74 L338.00,148.81 L338.25,148.87 L338.50,148.94 L338.75,149.01 L339.00,149.09 L339.25,149.16 L339.50,149.24 L339.75,149.32 L340.00,149.40 L340.25,149.48 L340.50,149.57 L340.75,149.66 L341.00,149.75 L341.25,149.84 L341.50,149.93 L341.75,150.03 L342.00,150.13 L342.25,150.23 L342.50,150.33 L342.75,150.44 L343.00,150.55 L343.25,150.66 L343.50,150.77 L343.75,150.88 L344.00,151.00 L344.25,151.12 L344.50,151.24 L344.75,151.37 L345.00,151.50 L345.25,151.63 L345.50,151.76 L345.75,151.89 L346.00,152.03 L346.25,152.17 L346.50,152.32 L346.75,152.46 L347.00,152.61 L347.25,152.76 L347.50,152.92 L347.75,153.07 L348.00,153.23 L348.25,153.40 L348.50,153.56 L348.75,153.73 L349.00,153.90 L349.25,154.08 L349.50,154.25 L349.75,154.43 L350.00,154.62 L350.25,154.81 L350.50,155.00 L350.75,155.19 L351.00,155.38 L351.25,155.58 L351.50,155.79 L351.75,155.99 L352.00,156.20 L352.25,156.41 L352.50,156.63 L352.75,156.85 L353.00,157.07 L353.25,157.30 L353.50,157.53 L353.75,157.76 L354.00,158.00 L354.25,158.24 L354.50,158.49 L354.75,158.73 L355.00,158.99 L355.25,159.24 L355.50,159.50 L355.75,159.76 L356.00,160.03 L356.25,160.30 L356.50,160.58 L356.75,160.86 L357.00,161.14 L357.25,161.43 L357.50,161.72 L357.75,162.01 L358.00,162.31 L358.25,162.62 L358.50,162.93 L358.75,163.24 L359.00,163.56 L359.25,163.88 L359.50,164.20 L359.75,164.53 L360.00,164.87 L360.25,165.21 L360.50,165.55 L360.75,165.90 L361.00,166.25 L361.25,166.61 L361.50,166.97 L361.75,167.34 L362.00,167.72 L362.25,168.09 L362.50,168.48 L362.75,168.86 L363.00,169.26 L363.25,169.66 L363.50,170.06 L363.75,170.47 L364.00,170.88 L364.25,171.30 L364.50,171.73 L364.75,172.16 L365.00,172.59 L365.25,173.03 L365.50,173.48 L365.75,173.93 L366.00,174.39 L366.25,174.85 L366.50,175.32 L366.75,175.80 L367.00,176.28 L367.25,176.77 L367.50,177.26 L367.75,177.76 L368.00,178.27 L368.25,178.78 L368.50,179.30 L368.75,179.83 L369.00,180.36 L369.25,180.90 L369.50,181.44 L369.75,181.99 L370.00,182.55 L370.25,183.12 L370.50,183.69 L370.75,184.27 L371.00,184.86 L371.25,185.45 L371.50,186.05 L371.75,186.66 L372.00,187.27 L372.25,187.89 L372.50,188.52 L372.75,189.16 L373.00,189.80 L373.25,190.45 L373.50,191.11 L373.75,191.78 L374.00,192.46 L374.25,193.14 L374.50,193.83 L374.75,194.53 L375.00,195.24 L375.25,195.95 L375.50,196.68 L375.75,197.41 L376.00,198.15 L376.25,198.90 L376.50,199.66 L376.75,200.43 L377.00,201.20 L377.25,201.99 L377.50,202.78 L377.75,203.58 L378.00,204.40 L378.25,205.22 L378.50,206.05 L378.75,206.89 L379.00,207.74 L379.25,208.60 L379.50,209.47 L379.75,210.34 L380.00,211.23 L380.25,212.13 L380.50,213.04 L380.75,213.96 L381.00,214.89 L381.25,215.83 L381.50,216.78 L381.75,217.74 L382.00,218.71 L382.25,219.70 L382.50,220.69 L382.75,221.69 L383.00,222.71 L383.25,223.74 L383.50,224.78 L383.75,225.83 L384.00,226.89 L384.25,227.96 L384.50,229.05 L384.75,230.14 L385.00,231.25 L385.25,232.37 L385.50,233.51 L385.75,234.65 L386.00,235.81 L386.25,236.98 L386.50,238.17 L386.75,239.37 L387.00,240.58 L387.25,241.80 L387.50,243.04 L387.75,244.29 L388.00,245.55 L388.25,246.83 L388.50,248.12 L388.75,249.42 L389.00,250.74 L389.25,252.08 L389.50,253.43 L389.75,254.79 L390.00,256.17 L390.25,257.56 L390.50,258.96 L390.75,260.39 L391.00,261.82 L391.25,263.28 L391.41,264.20" stroke="#e51e10" stroke-width="2.3"/>
<path d="M247.71,264.20 L247.75,264.12 L248.00,263.64 L248.25,263.15 L248.50,262.67 L248.75,262.19 L249.00,261.70 L249.25,261.22 L249.50,260.73 L249.75,260.25 L250.00,259.77 L250.25,259.28 L250.50,258.80 L250.75,258.32 L251.00,257.83 L251.25,257.35 L251.50,256.87 L251.75,256.38 L252.00,255.90 L252.25,255.42 L252.50,254.93 L252.75,254.45 L253.00,253.97 L253.25,253.48 L253.50,253.00 L253.75,252.51 L254.00,252.03 L254.25,251.55 L254.50,251.06 L254.75,250.58 L255.00,250.10 L255.25,249.61 L255.50,249.13 L255.75,248.65 L256.00,248.16 L256.25,247.68 L256.50,247.20 L256.75,246.71 L257.00,246.23 L257.25,245.75 L257.50,245.26 L257.75,244.78 L258.00,244.29 L258.25,243.81 L258.50,243.33 L258.75,242.84 L259.00,242.36 L259.25,241.88 L259.50,241.39 L259.75,240.91 L260.00,240.43 L260.25,239.94 L260.50,239.46 L260.75,238.98 L261.00,238.49 L261.25,238.01 L261.50,237.53 L261.75,237.04 L262.00,236.56 L262.25,236.08 L262.50,235.59 L262.75,235.11 L263.00,234.62 L263.25,234.14 L263.50,233.66 L263.75,233.17 L264.00,232.69 L264.25,232.21 L264.50,231.72 L264.75,231.24 L265.00,230.76 L265.25,230.27 L265.50,229.79 L265.75,229.31 L266.00,228.82 L266.25,228.34 L266.50,227.86 L266.75,227.37 L267.00,226.89 L267.25,226.40 L267.50,225.92 L267.75,225.44 L268.00,224.95 L268.25,224.47 L268.50,223.99 L268.75,223.50 L269.00,223.02 L269.25,222.54 L269.50,222.05 L269.75,221.57 L270.00,221.09 L270.25,220.60 L270.50,220.12 L270.75,219.64 L271.00,219.15 L271.25,218.67 L271.50,218.18 L271.75,217.70 L272.00,217.22 L272.25,216.73 L272.50,216.25 L272.75,215.77 L273.00,215.28 L273.25,214.80 L273.50,214.32 L273.75,213.83 L274.00,213.35 L274.25,212.87 L274.50,212.38 L274.75,211.90 L275.00,211.42 L275.25,210.93 L275.50,210.45 L275.75,209.96 L276.00,209.48 L276.25,209.00 L276.50,208.51 L276.75,208.03 L277.00,207.55 L277.25,207.06 L277.50,206.58 L277.75,206.10 L278.00,205.61 L278.25,205.13 L278.50,204.65 L278.75,204.16 L279.00,203.68 L279.25,203.20 L279.50,202.71 L279.75,202.23 L280.00,201.75 L280.25,201.26 L280.50,200.78 L280.75,200.29 L281.00,199.81 L281.25,199.33 L281.50,198.84 L281.75,198.36 L282.00,197.88 L282.25,197.39 L282.50,196.91 L282.75,196.43 L283.00,195.94 L283.25,195.46 L283.50,194.98 L283.75,194.49 L284.00,194.01 L284.25,193.53 L284.50,193.04 L284.75,192.56 L285.00,192.08 L285.25,191.59 L285.50,191.11 L285.75,190.62 L286.00,190.14 L286.25,189.66 L286.50,189.17 L286.75,188.69 L287.00,188.21 L287.25,187.72 L287.50,187.24 L287.75,186.76 L288.00,186.27 L288.25,185.79 L288.50,185.31 L288.75,184.82 L289.00,184.34 L289.25,183.86 L289.50,183.37 L289.75,182.89 L290.00,182.41 L290.25,181.92 L290.50,181.44 L290.75,180.95 L291.00,180.47 L291.25,179.99 L291.50,179.50 L291.75,179.02 L292.00,178.54 L292.25,178.05 L292.50,177.57 L292.75,177.09 L293.00,176.60 L293.25,176.12 L293.50,175.64 L293.75,175.15 L294.00,174.67 L294.25,174.19 L294.50,173.70 L294.75,173.22 L295.00,172.74 L295.25,172.25 L295.50,171.77 L295.75,171.29 L296.00,170.80 L296.25,170.32 L296.50,169.84 L296.75,169.35 L297.00,168.87 L297.25,168.38 L297.50,167.90 L297.75,167.42 L298.00,166.93 L298.25,166.45 L298.50,165.97 L298.75,165.48 L299.00,165.00 L299.25,164.52 L299.50,164.03 L299.75,163.55 L300.00,163.07 L300.25,162.58 L300.50,162.10 L300.75,161.62 L301.00,161.13 L301.25,160.65 L301.50,160.17 L301.75,159.68 L302.00,159.20 L302.25,158.72 L302.50,158.23 L302.75,157.75 L303.00,157.27 L303.25,156.78 L303.50,156.30 L303.75,155.82 L304.00,155.33 L304.25,154.85 L304.50,154.37 L304.75,153.88 L305.00,153.40 L305.25,152.92 L305.50,152.43 L305.75,151.95 L306.00,151.47 L306.25,150.98 L306.50,150.50 L306.75,150.02 L307.00,149.54 L307.25,149.05 L307.50,148.57 L307.75,148.09 L308.00,147.60 L308.25,147.12 L308.50,146.64 L308.75,146.15 L309.00,145.67 L309.25,145.19 L309.50,144.70 L309.75,144.22 L310.00,143.74 L310.25,143.25 L310.50,142.77 L310.75,142.29 L311.00,141.81 L311.25,141.32 L311.50,140.84 L311.75,140.36 L312.00,139.87 L312.25,139.39 L312.50,138.91 L312.75,138.43 L313.00,137.94 L313.25,137.46 L313.50,136.98 L313.75,136.49 L314.00,136.01 L314.25,135.53 L314.50,135.05 L314.75,134.56 L315.00,134.08 L315.25,133.60 L315.50,133.12 L315.75,132.63 L316.00,132.15 L316.25,131.67 L316.50,131.19 L316.75,130.70 L317.00,130.22 L317.25,129.74 L317.50,129.26 L317.75,128.77 L318.00,128.29 L318.25,127.81 L318.50,127.33 L318.75,126.85 L319.00,126.36 L319.25,125.88 L319.50,125.40 L319.75,124.92 L320.00,124.44 L320.25,123.95 L320.50,123.47 L320.75,122.99 L321.00,122.51 L321.25,122.03 L321.50,121.54 L321.75,121.06 L322.00,120.58 L322.25,120.10 L322.50,119.62 L322.75,119.14 L323.00,118.66 L323.25,118.18 L323.50,117.69 L323.75,117.21 L324.00,116.73 L324.25,116.25 L324.50,115.77 L324.75,115.29 L325.00,114.81 L325.25,114.33 L325.50,113.85 L325.75,113.37 L326.00,112.89 L326.25,112.41 L326.50,111.93 L326.75,111.45 L327.00,110.97 L327.25,110.49 L327.50,110.01 L327.75,109.53 L328.00,109.05 L328.25,108.57 L328.50,108.09 L328.75,107.62 L329.00,107.14 L329.25,106.66 L329.50,106.18 L329.75,105.70 L330.00,105.22 L330.25,104.75 L330.50,104.27 L330.75,103.79 L331.00,103.31 L331.25,102.84 L331.50,102.36 L331.75,101.88 L332.00,101.41 L332.25,100.93 L332.50,100.45 L332.75,99.98 L333.00,99.50 L333.25,99.03 L333.50,98.55 L333.75,98.08 L334.00,97.60 L334.25,97.13 L334.50,96.66 L334.75,96.18 L335.00,95.71 L335.25,95.24 L335.50,94.76 L335.75,94.29 L336.00,93.82 L336.25,93.35 L336.50,92.87 L336.75,92.40 L337.00,91.93 L337.25,91.46 L337.50,90.99 L337.75,90.52 L338.00,90.06 L338.25,89.59 L338.50,89.12 L338.75,88.65 L339.00,88.18 L339.25,87.72 L339.50,87.25 L339.75,86.79 L340.00,86.32 L340.25,85.86 L340.50,85.39 L340.75,84.93 L341.00,84.47 L341.25,84.01 L341.50,83.55 L341.75,83.09 L342.00,82.63 L342.25,82.17 L342.50,81.71 L342.75,81.25 L343.00,80.80 L343.25,80.34 L343.50,79.88 L343.75,79.43 L344.00,78.98 L344.25,78.53 L344.50,78.07 L344.75,77.62 L345.00,77.18 L345.25,76.73 L345.50,76.28 L345.75,75.84 L346.00,75.39 L346.25,74.95 L346.50,74.51 L346.75,74.06 L347.00,73.62 L347.25,73.19 L347.50,72.75 L347.75,72.31 L348.00,71.88 L348.25,71.45 L348.50,71.02 L348.75,70.59 L349.00,70.16 L349.25,69.74 L349.50,69.31 L349.75,68.89 L350.00,68.47 L350.25,68.05 L350.50,67.64 L350.75,67.22 L351.00,66.81 L351.25,66.40 L351.50,65.99 L351.75,65.59 L352.00,65.19 L352.25,64.79 L352.50,64.39 L352.75,63.99 L353.00,63.60 L353.25,63.21 L353.50,62.83 L353.75,62.44 L354.00,62.06 L354.25,61.68 L354.50,61.31 L354.75,60.94 L355.00,60.57 L355.25,60.21 L355.50,59.85 L355.75,59.50 L356.00,59.14 L356.25,58.80 L356.50,58.45 L356.75,58.11 L357.00,57.78 L357.25,57.45 L357.50,57.13 L357.75,56.81 L358.00,56.49 L358.25,56.18 L358.50,55.88 L358.75,55.58 L359.00,55.28 L359.25,55.00 L359.50,54.71 L359.75,54.44 L360.00,54.17 L360.25,53.91 L360.50,53.65 L360.75,53.41 L361.00,53.16 L361.25,52.93 L361.50,52.71 L361.75,52.49 L362.00,52.28 L362.25,52.08 L362.50,51.89 L362.75,51.70 L363.00,51.53 L363.25,51.37 L363.50,51.21 L363.75,51.07 L364.00,50.93 L364.25,50.81 L364.50,50.70 L364.75,50.60 L365.00,50.51 L365.25,50.44 L365.50,50.37 L365.75,50.32 L366.00,50.29 L366.25,50.26 L366.50,50.26 L366.75,50.26 L367.00,50.28 L367.25,50.32 L367.50,50.37 L367.75,50.44 L368.00,50.53 L368.25,50.63 L368.50,50.76 L368.75,50.90 L369.00,51.06 L369.25,51.24 L369.50,51.44 L369.75,51.66 L370.00,51.91 L370.25,52.18 L370.50,52.47 L370.75,52.78 L371.00,53.12 L371.25,53.48 L371.50,53.88 L371.75,54.29 L372.00,54.74 L372.25,55.21 L372.50,55.72 L372.75,56.25 L373.00,56.82 L373.25,57.42 L373.50,58.05 L373.75,58.72 L374.00,59.42 L374.25,60.16 L374.50,60.93 L374.75,61.75 L375.00,62.61 L375.25,63.51 L375.50,64.45 L375.75,65.43 L376.00,66.46 L376.25,67.54 L376.50,68.66 L376.75,69.84 L377.00,71.07 L377.25,72.35 L377.50,73.68 L377.75,75.07 L378.00,76.52 L378.25,78.03 L378.50,79.60 L378.75,81.23 L379.00,82.93 L379.25,84.70 L379.50,86.53 L379.75,88.44 L380.00,90.43 L380.25,92.48 L380.50,94.62 L380.75,96.84 L381.00,99.14 L381.25,101.53 L381.50,104.01 L381.75,106.58 L382.00,109.24 L382.25,112.01 L382.50,114.87 L382.75,117.83 L383.00,120.91 L383.25,124.09 L383.50,127.39 L383.75,130.80 L384.00,134.33 L384.25,137.99 L384.50,141.78 L384.75,145.70 L385.00,149.75 L385.25,153.95 L385.50,158.29 L385.75,162.78 L386.00,167.43 L386.25,172.23 L386.50,177.20 L386.75,182.33 L387.00,187.64 L387.25,193.13 L387.50,198.81 L387.75,204.67 L388.00,210.73 L388.25,217.00 L388.50,223.47 L388.75,230.16 L389.00,237.07 L389.25,244.21 L389.50,251.59 L389.75,259.21 L389.91,264.20" stroke="#e51e10" stroke-width="2.5" stroke-dasharray="0.7 3.3" stroke-linecap="round"/>
</g>
<rect x="57.5" y="15.5" width="335.0" height="248.7" fill="none" stroke="#000" stroke-width="1"/>
<path d="M71.7,30.4 h15.4" stroke="#0000f0" stroke-width="2.3" fill="none"/>
<text x="94.1" y="35.6" font-size="14.4" stroke="#141414" stroke-width="0.3">α</text>
<text x="110.8" y="35.6" font-size="13.33" letter-spacing="0.12">= 1</text>
<path d="M71.7,48.5 h15.4" stroke="#56b4e9" stroke-width="2.3" fill="none"/>
<path d="M93.9,43.9 L91.3,49.7 L93.9,55.5 M102.9,43.9 L106.0,49.7 L102.9,55.5" stroke="#141414" stroke-width="0.85" fill="none"/>
<text x="93.7" y="53.7" font-size="14.4" stroke="#141414" stroke-width="0.3">α</text>
<text x="110.8" y="53.7" font-size="13.33" letter-spacing="0.12">= 0.46</text>
<path d="M71.7,66.6 h15.4" stroke="#e69f00" stroke-width="2.3" fill="none"/>
<path d="M93.9,62.0 L91.3,67.8 L93.9,73.6 M102.9,62.0 L106.0,67.8 L102.9,73.6" stroke="#141414" stroke-width="0.85" fill="none"/>
<text x="93.7" y="71.8" font-size="14.4" stroke="#141414" stroke-width="0.3">α</text>
<text x="110.8" y="71.8" font-size="13.33" letter-spacing="0.12">= 0.14</text>
<path d="M71.7,84.8 h15.4" stroke="#e51e10" stroke-width="2.3" fill="none"/>
<text x="94.1" y="90.0" font-size="14.4" stroke="#141414" stroke-width="0.3">α</text>
<text x="110.8" y="90.0" font-size="13.33" letter-spacing="0.12">= 0</text>
<text x="49.4" y="241.55" font-size="13.33" text-anchor="end">10<tspan font-size="10.67" dy="-4.8">-5</tspan></text>
<text x="49.4" y="202.85" font-size="13.33" text-anchor="end">10<tspan font-size="10.67" dy="-4.8">-4</tspan></text>
<text x="49.4" y="164.15" font-size="13.33" text-anchor="end">10<tspan font-size="10.67" dy="-4.8">-3</tspan></text>
<text x="49.4" y="125.45" font-size="13.33" text-anchor="end">10<tspan font-size="10.67" dy="-4.8">-2</tspan></text>
<text x="49.4" y="86.75" font-size="13.33" text-anchor="end">10<tspan font-size="10.67" dy="-4.8">-1</tspan></text>
<text x="49.4" y="48.05" font-size="13.33" text-anchor="end">10<tspan font-size="10.67" dy="-4.8">0</tspan></text>
<path d="M85.10,277.7 L87.60,275.5 M87.60,275.2 V284 M84.90,283.85 H90.80" stroke="#141414" stroke-width="1.15" fill="none" stroke-linejoin="round"/>
<path d="M375.60,277.7 L378.10,275.5 M378.10,275.2 V284 M375.40,283.85 H381.30" stroke="#141414" stroke-width="1.15" fill="none" stroke-linejoin="round"/>
<text x="381.9" y="284.7" font-size="13.33">0</text>
<text x="190.9" y="291.7" font-size="14.4" stroke="#141414" stroke-width="0.3">ω</text>
<text x="201.3" y="294.3" font-size="10.67" fill="#383838">min</text>
<text x="227.4" y="291.7" font-size="13.33">[THz]</text>
<g transform="translate(13.2,163.2) rotate(-90)"><text x="0" y="0" font-size="13.33">D(</text><text x="14.2" y="0" font-size="14.4">ω</text><text x="24.7" y="2.6" font-size="10.67" fill="#383838">min</text><text x="41.9" y="0" font-size="13.33">)</text></g>
</svg></body></html>
